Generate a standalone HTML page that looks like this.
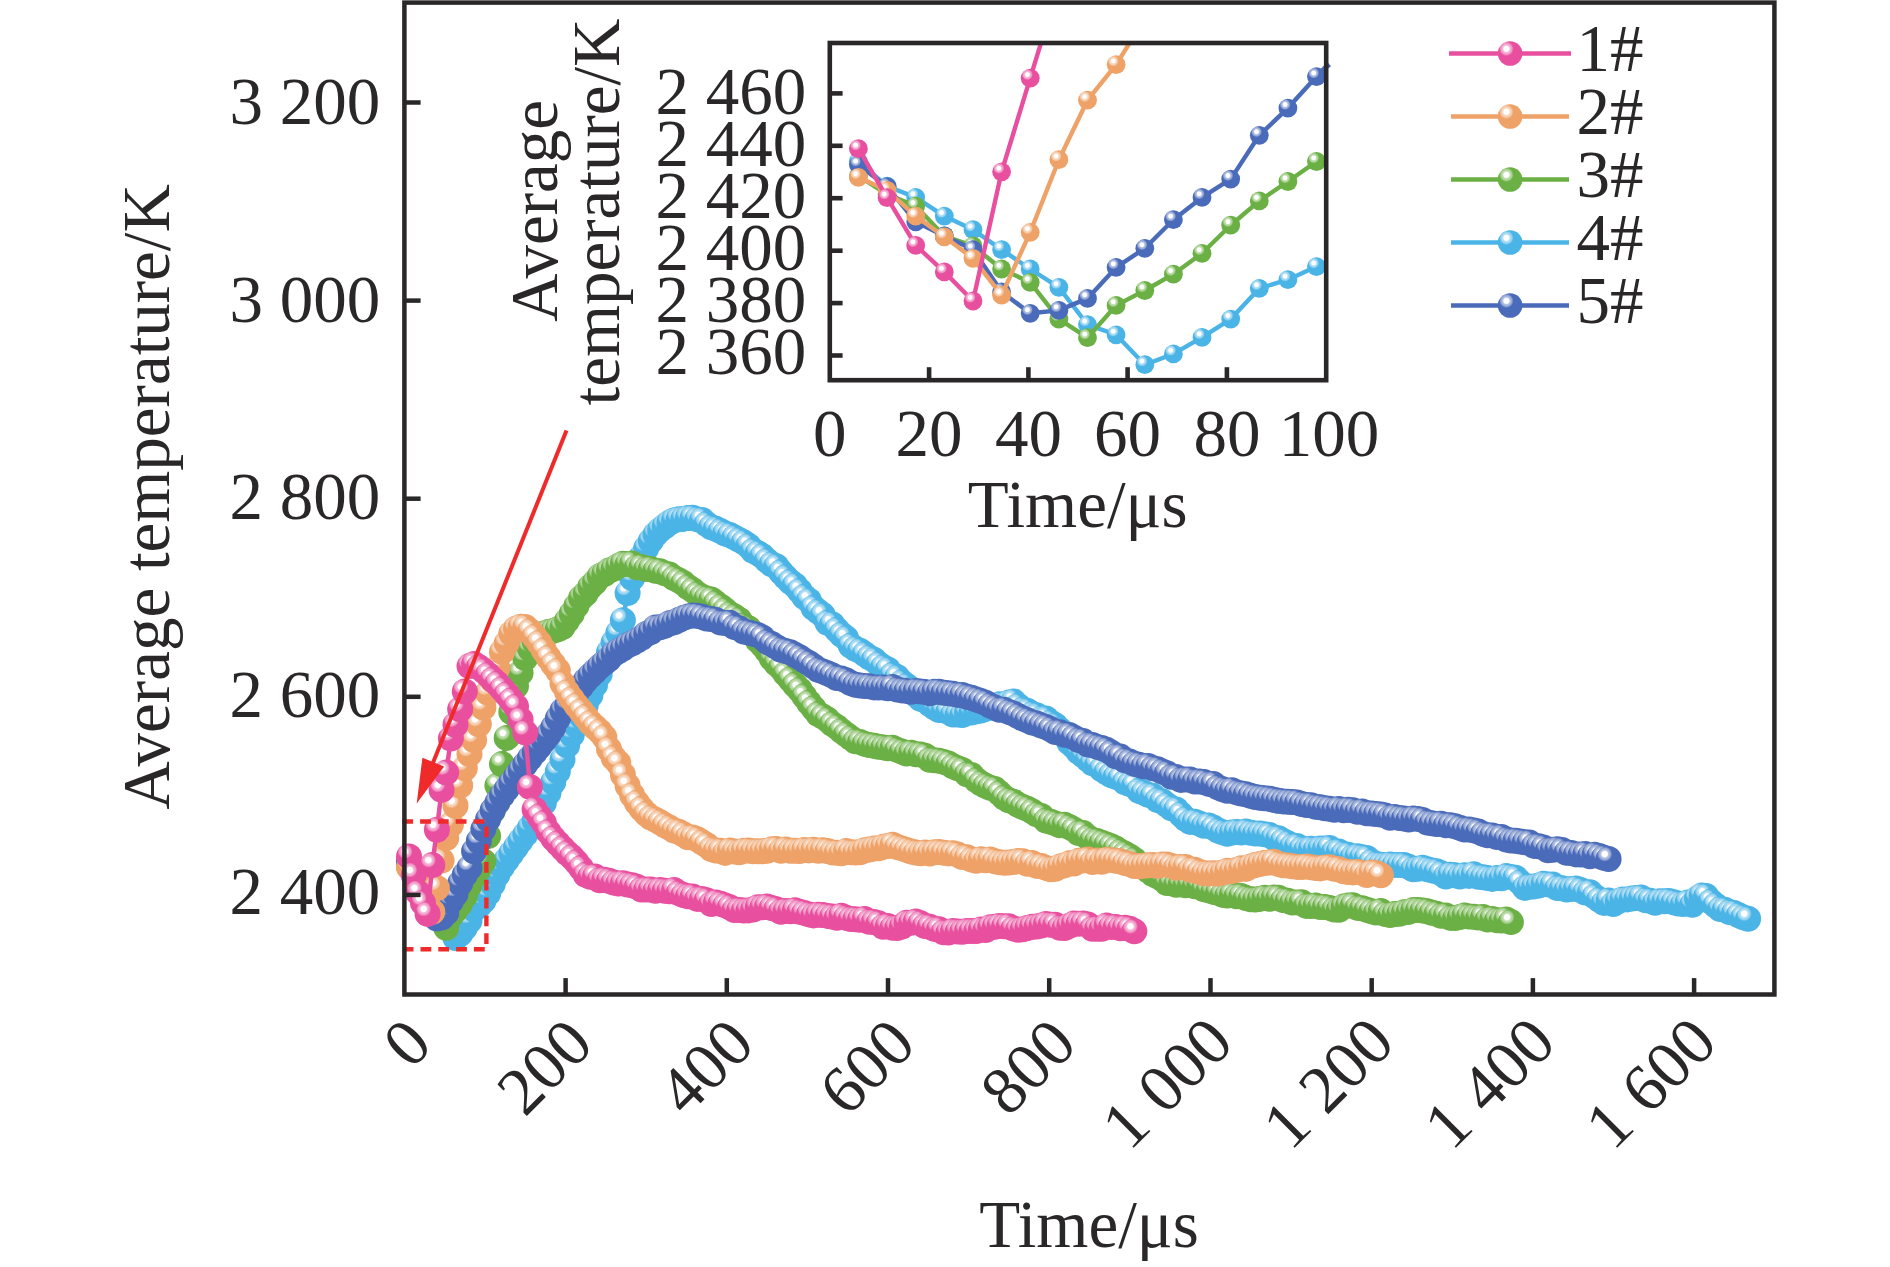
<!DOCTYPE html>
<html lang="en"><head><meta charset="utf-8"><title>Average temperature vs time</title><style>html,body{margin:0;padding:0;background:#fff}svg{display:block}</style></head><body>
<svg width="1890" height="1267" viewBox="0 0 1890 1267">
<defs>
<radialGradient id="g1" cx="0.35" cy="0.31" r="0.29" fx="0.35" fy="0.31"><stop offset="0" stop-color="#fff"/><stop offset="0.36" stop-color="#fff"/><stop offset="0.5" stop-color="#f6bcdb"/><stop offset="0.78" stop-color="#f196c5"/><stop offset="1" stop-color="#e8509f"/></radialGradient>
<radialGradient id="g2" cx="0.35" cy="0.31" r="0.29" fx="0.35" fy="0.31"><stop offset="0" stop-color="#fff"/><stop offset="0.36" stop-color="#fff"/><stop offset="0.5" stop-color="#f9dcc6"/><stop offset="0.78" stop-color="#f5c7a4"/><stop offset="1" stop-color="#eea268"/></radialGradient>
<radialGradient id="g3" cx="0.35" cy="0.31" r="0.29" fx="0.35" fy="0.31"><stop offset="0" stop-color="#fff"/><stop offset="0.36" stop-color="#fff"/><stop offset="0.5" stop-color="#c7e1b8"/><stop offset="0.78" stop-color="#a6d08f"/><stop offset="1" stop-color="#6bb045"/></radialGradient>
<radialGradient id="g4" cx="0.35" cy="0.31" r="0.29" fx="0.35" fy="0.31"><stop offset="0" stop-color="#fff"/><stop offset="0.36" stop-color="#fff"/><stop offset="0.5" stop-color="#bbe2f6"/><stop offset="0.78" stop-color="#93d2f0"/><stop offset="1" stop-color="#4bb4e6"/></radialGradient>
<radialGradient id="g5" cx="0.35" cy="0.31" r="0.29" fx="0.35" fy="0.31"><stop offset="0" stop-color="#fff"/><stop offset="0.36" stop-color="#fff"/><stop offset="0.5" stop-color="#bac7e4"/><stop offset="0.78" stop-color="#92a6d5"/><stop offset="1" stop-color="#4a6bb9"/></radialGradient>
<clipPath id="mclip"><rect x="404.4" y="2.6" width="1370.0" height="991.9"/></clipPath>
<clipPath id="iclip"><rect x="828.5999999999999" y="41.8" width="498.80000000000007" height="339.59999999999997"/></clipPath>
</defs>
<rect width="1890" height="1267" fill="#fff"/>
<g>
<polyline fill="none" stroke="#4bb4e6" stroke-width="4.5" stroke-linejoin="round" points="409,861.2 413.7,870.5 418.3,874.8 423,881.8 427.6,887 432.3,894.5 436.9,901.8 441.6,908.8 446.2,922.8 450.9,926.7 455.5,938 460.2,933.9 464.8,927.7 469.5,920.8 474.1,909.2 478.8,905.9 483.4,900.9 488.1,893.4 492.7,884 497.4,874.6 502,866.8 506.7,860 511.3,853.5 516,847.1 520.6,840.6 525.3,834.4 529.9,827.9 534.6,820.7 539.2,812.3 543.9,802.7 548.5,792.8 553.2,782.3 557.8,771.4 562.5,759.6 567.1,745.4 571.8,734.7 576.4,725.4 581.1,715.7 585.7,705.6 590.4,695.3 595,684.9 599.7,674.1 604.3,662.9 609,652.2 613.6,642.5 618.3,633 622.9,620.2 627.6,593.1 632.2,578.1 636.9,566.3 641.5,556.9 646.2,548.3 650.8,540.9 655.5,534.4 660.1,529.9 664.8,526.3 669.4,522.8 674.1,520.2 678.7,519.2 683.4,518.9 688,518 692.7,517.8 697.3,519.4 702,519.9 706.6,524.1 711.3,527.3 715.9,528.8 720.6,531.1 725.2,533.6 729.9,535.1 734.5,537.4 739.2,539.9 743.8,542.4 748.5,545.7 753.1,550.8 757.8,553 762.4,556.1 767,560.6 771.7,564.2 776.3,566.3 781,572.1 785.6,577.1 790.3,581.8 794.9,585.3 799.6,590.8 804.2,596.7 808.9,600.4 813.5,607.7 818.2,611.6 822.8,615.1 827.5,622.7 832.1,624.2 836.8,629.7 841.4,634.5 846.1,638.1 850.7,645.5 855.4,648.7 860,650.8 864.7,654.1 869.3,657.4 874,659.8 878.6,663.9 883.3,667.2 887.9,669.4 892.6,674.8 897.2,677.1 901.9,682.2 906.5,685.8 911.2,689.4 915.8,694.6 920.5,698.8 925.1,700.4 929.8,704 934.4,707.3 939.1,710 943.7,710.3 948.4,711.7 953,714.6 957.7,714.5 962.3,715.1 967,712.4 971.6,712.5 976.3,711.2 980.9,710.5 985.6,708.9 990.2,707.8 994.9,706.2 999.5,704.3 1004.2,704.5 1008.8,702.5 1013.5,701.4 1018.1,705.8 1022.8,709.5 1027.4,710.7 1032.1,713.9 1036.7,715.2 1041.4,718.4 1046,718.5 1050.7,722.5 1055.3,725.3 1060,730 1064.6,735.3 1069.3,742.4 1073.9,746.4 1078.6,751.9 1083.2,755.3 1087.9,759.3 1092.5,763.2 1097.2,764.4 1101.8,769.4 1106.5,772.2 1111.1,775 1115.8,776.8 1120.4,778.3 1125,782.3 1129.7,784.1 1134.3,785.1 1139,790.8 1143.6,792.6 1148.3,794.9 1152.9,795.8 1157.6,800 1162.2,801.3 1166.9,804.9 1171.5,808.2 1176.2,809.4 1180.8,814.2 1185.5,818.9 1190.1,821.9 1194.8,821.8 1199.4,823.5 1204.1,825.7 1208.7,825.4 1213.4,827.6 1218,830.6 1222.7,832.3 1227.3,833.8 1232,832.6 1236.6,831.9 1241.3,832.6 1245.9,831.6 1250.6,832.7 1255.2,833.6 1259.9,833.6 1264.5,834.2 1269.2,835 1273.8,837.7 1278.5,838.3 1283.1,840.9 1287.8,843.2 1292.4,846.1 1297.1,846.1 1301.7,848.6 1306.4,849.6 1311,848.8 1315.7,849.6 1320.3,848.6 1325,848.6 1329.6,848.1 1334.3,851.7 1338.9,851.4 1343.6,853.9 1348.2,854.8 1352.9,857 1357.5,856.3 1362.2,857.3 1366.8,858 1371.5,861.7 1376.1,864.1 1380.8,864.7 1385.4,864.9 1390.1,864.4 1394.7,864.9 1399.4,865.1 1404,865.1 1408.7,866.8 1413.3,869.3 1418,868.8 1422.6,867.8 1427.3,869.2 1431.9,870.4 1436.6,871.2 1441.2,873.3 1445.9,876.5 1450.5,874.7 1455.2,875.3 1459.8,876.5 1464.5,875.3 1469.1,875.9 1473.8,874.3 1478.4,876.7 1483.1,877.2 1487.7,878.1 1492.3,878.9 1497,878 1501.6,878.2 1506.3,876 1510.9,876.9 1515.6,877.7 1520.2,882.4 1524.9,887.9 1529.5,886.8 1534.2,886.4 1538.8,885.6 1543.5,883.8 1548.1,884.4 1552.8,884.6 1557.4,888.1 1562.1,888.2 1566.7,889.6 1571.4,889.1 1576,888.4 1580.7,890.1 1585.3,892.5 1590,892.3 1594.6,896.4 1599.3,899.8 1603.9,902.9 1608.6,900.5 1613.2,904.1 1617.9,901.3 1622.5,899.4 1627.2,899.4 1631.8,898.5 1636.5,898 1641.1,897.5 1645.8,900.3 1650.4,900.7 1655.1,902.7 1659.7,901.3 1664.4,901.2 1669,901.1 1673.7,902.2 1678.3,903.5 1683,904.1 1687.6,902.5 1692.3,904.7 1696.9,898.7 1701.6,895.4 1706.2,896.1 1710.9,901.5 1715.5,905.2 1720.2,909.1 1724.8,909.8 1729.5,912 1734.1,912.9 1738.8,915.2 1743.4,917.4 1748.1,918.7"/>
<g fill="url(#g4)">
<circle cx="409" cy="861.2" r="13.0"/>
<circle cx="413.7" cy="870.5" r="13.0"/>
<circle cx="418.3" cy="874.8" r="13.0"/>
<circle cx="423" cy="881.8" r="13.0"/>
<circle cx="427.6" cy="887" r="13.0"/>
<circle cx="432.3" cy="894.5" r="13.0"/>
<circle cx="436.9" cy="901.8" r="13.0"/>
<circle cx="441.6" cy="908.8" r="13.0"/>
<circle cx="446.2" cy="922.8" r="13.0"/>
<circle cx="450.9" cy="926.7" r="13.0"/>
<circle cx="455.5" cy="938" r="13.0"/>
<circle cx="460.2" cy="933.9" r="13.0"/>
<circle cx="464.8" cy="927.7" r="13.0"/>
<circle cx="469.5" cy="920.8" r="13.0"/>
<circle cx="474.1" cy="909.2" r="13.0"/>
<circle cx="478.8" cy="905.9" r="13.0"/>
<circle cx="483.4" cy="900.9" r="13.0"/>
<circle cx="488.1" cy="893.4" r="13.0"/>
<circle cx="492.7" cy="884" r="13.0"/>
<circle cx="497.4" cy="874.6" r="13.0"/>
<circle cx="502" cy="866.8" r="13.0"/>
<circle cx="506.7" cy="860" r="13.0"/>
<circle cx="511.3" cy="853.5" r="13.0"/>
<circle cx="516" cy="847.1" r="13.0"/>
<circle cx="520.6" cy="840.6" r="13.0"/>
<circle cx="525.3" cy="834.4" r="13.0"/>
<circle cx="529.9" cy="827.9" r="13.0"/>
<circle cx="534.6" cy="820.7" r="13.0"/>
<circle cx="539.2" cy="812.3" r="13.0"/>
<circle cx="543.9" cy="802.7" r="13.0"/>
<circle cx="548.5" cy="792.8" r="13.0"/>
<circle cx="553.2" cy="782.3" r="13.0"/>
<circle cx="557.8" cy="771.4" r="13.0"/>
<circle cx="562.5" cy="759.6" r="13.0"/>
<circle cx="567.1" cy="745.4" r="13.0"/>
<circle cx="571.8" cy="734.7" r="13.0"/>
<circle cx="576.4" cy="725.4" r="13.0"/>
<circle cx="581.1" cy="715.7" r="13.0"/>
<circle cx="585.7" cy="705.6" r="13.0"/>
<circle cx="590.4" cy="695.3" r="13.0"/>
<circle cx="595" cy="684.9" r="13.0"/>
<circle cx="599.7" cy="674.1" r="13.0"/>
<circle cx="604.3" cy="662.9" r="13.0"/>
<circle cx="609" cy="652.2" r="13.0"/>
<circle cx="613.6" cy="642.5" r="13.0"/>
<circle cx="618.3" cy="633" r="13.0"/>
<circle cx="622.9" cy="620.2" r="13.0"/>
<circle cx="627.6" cy="593.1" r="13.0"/>
<circle cx="632.2" cy="578.1" r="13.0"/>
<circle cx="636.9" cy="566.3" r="13.0"/>
<circle cx="641.5" cy="556.9" r="13.0"/>
<circle cx="646.2" cy="548.3" r="13.0"/>
<circle cx="650.8" cy="540.9" r="13.0"/>
<circle cx="655.5" cy="534.4" r="13.0"/>
<circle cx="660.1" cy="529.9" r="13.0"/>
<circle cx="664.8" cy="526.3" r="13.0"/>
<circle cx="669.4" cy="522.8" r="13.0"/>
<circle cx="674.1" cy="520.2" r="13.0"/>
<circle cx="678.7" cy="519.2" r="13.0"/>
<circle cx="683.4" cy="518.9" r="13.0"/>
<circle cx="688" cy="518" r="13.0"/>
<circle cx="692.7" cy="517.8" r="13.0"/>
<circle cx="697.3" cy="519.4" r="13.0"/>
<circle cx="702" cy="519.9" r="13.0"/>
<circle cx="706.6" cy="524.1" r="13.0"/>
<circle cx="711.3" cy="527.3" r="13.0"/>
<circle cx="715.9" cy="528.8" r="13.0"/>
<circle cx="720.6" cy="531.1" r="13.0"/>
<circle cx="725.2" cy="533.6" r="13.0"/>
<circle cx="729.9" cy="535.1" r="13.0"/>
<circle cx="734.5" cy="537.4" r="13.0"/>
<circle cx="739.2" cy="539.9" r="13.0"/>
<circle cx="743.8" cy="542.4" r="13.0"/>
<circle cx="748.5" cy="545.7" r="13.0"/>
<circle cx="753.1" cy="550.8" r="13.0"/>
<circle cx="757.8" cy="553" r="13.0"/>
<circle cx="762.4" cy="556.1" r="13.0"/>
<circle cx="767" cy="560.6" r="13.0"/>
<circle cx="771.7" cy="564.2" r="13.0"/>
<circle cx="776.3" cy="566.3" r="13.0"/>
<circle cx="781" cy="572.1" r="13.0"/>
<circle cx="785.6" cy="577.1" r="13.0"/>
<circle cx="790.3" cy="581.8" r="13.0"/>
<circle cx="794.9" cy="585.3" r="13.0"/>
<circle cx="799.6" cy="590.8" r="13.0"/>
<circle cx="804.2" cy="596.7" r="13.0"/>
<circle cx="808.9" cy="600.4" r="13.0"/>
<circle cx="813.5" cy="607.7" r="13.0"/>
<circle cx="818.2" cy="611.6" r="13.0"/>
<circle cx="822.8" cy="615.1" r="13.0"/>
<circle cx="827.5" cy="622.7" r="13.0"/>
<circle cx="832.1" cy="624.2" r="13.0"/>
<circle cx="836.8" cy="629.7" r="13.0"/>
<circle cx="841.4" cy="634.5" r="13.0"/>
<circle cx="846.1" cy="638.1" r="13.0"/>
<circle cx="850.7" cy="645.5" r="13.0"/>
<circle cx="855.4" cy="648.7" r="13.0"/>
<circle cx="860" cy="650.8" r="13.0"/>
<circle cx="864.7" cy="654.1" r="13.0"/>
<circle cx="869.3" cy="657.4" r="13.0"/>
<circle cx="874" cy="659.8" r="13.0"/>
<circle cx="878.6" cy="663.9" r="13.0"/>
<circle cx="883.3" cy="667.2" r="13.0"/>
<circle cx="887.9" cy="669.4" r="13.0"/>
<circle cx="892.6" cy="674.8" r="13.0"/>
<circle cx="897.2" cy="677.1" r="13.0"/>
<circle cx="901.9" cy="682.2" r="13.0"/>
<circle cx="906.5" cy="685.8" r="13.0"/>
<circle cx="911.2" cy="689.4" r="13.0"/>
<circle cx="915.8" cy="694.6" r="13.0"/>
<circle cx="920.5" cy="698.8" r="13.0"/>
<circle cx="925.1" cy="700.4" r="13.0"/>
<circle cx="929.8" cy="704" r="13.0"/>
<circle cx="934.4" cy="707.3" r="13.0"/>
<circle cx="939.1" cy="710" r="13.0"/>
<circle cx="943.7" cy="710.3" r="13.0"/>
<circle cx="948.4" cy="711.7" r="13.0"/>
<circle cx="953" cy="714.6" r="13.0"/>
<circle cx="957.7" cy="714.5" r="13.0"/>
<circle cx="962.3" cy="715.1" r="13.0"/>
<circle cx="967" cy="712.4" r="13.0"/>
<circle cx="971.6" cy="712.5" r="13.0"/>
<circle cx="976.3" cy="711.2" r="13.0"/>
<circle cx="980.9" cy="710.5" r="13.0"/>
<circle cx="985.6" cy="708.9" r="13.0"/>
<circle cx="990.2" cy="707.8" r="13.0"/>
<circle cx="994.9" cy="706.2" r="13.0"/>
<circle cx="999.5" cy="704.3" r="13.0"/>
<circle cx="1004.2" cy="704.5" r="13.0"/>
<circle cx="1008.8" cy="702.5" r="13.0"/>
<circle cx="1013.5" cy="701.4" r="13.0"/>
<circle cx="1018.1" cy="705.8" r="13.0"/>
<circle cx="1022.8" cy="709.5" r="13.0"/>
<circle cx="1027.4" cy="710.7" r="13.0"/>
<circle cx="1032.1" cy="713.9" r="13.0"/>
<circle cx="1036.7" cy="715.2" r="13.0"/>
<circle cx="1041.4" cy="718.4" r="13.0"/>
<circle cx="1046" cy="718.5" r="13.0"/>
<circle cx="1050.7" cy="722.5" r="13.0"/>
<circle cx="1055.3" cy="725.3" r="13.0"/>
<circle cx="1060" cy="730" r="13.0"/>
<circle cx="1064.6" cy="735.3" r="13.0"/>
<circle cx="1069.3" cy="742.4" r="13.0"/>
<circle cx="1073.9" cy="746.4" r="13.0"/>
<circle cx="1078.6" cy="751.9" r="13.0"/>
<circle cx="1083.2" cy="755.3" r="13.0"/>
<circle cx="1087.9" cy="759.3" r="13.0"/>
<circle cx="1092.5" cy="763.2" r="13.0"/>
<circle cx="1097.2" cy="764.4" r="13.0"/>
<circle cx="1101.8" cy="769.4" r="13.0"/>
<circle cx="1106.5" cy="772.2" r="13.0"/>
<circle cx="1111.1" cy="775" r="13.0"/>
<circle cx="1115.8" cy="776.8" r="13.0"/>
<circle cx="1120.4" cy="778.3" r="13.0"/>
<circle cx="1125" cy="782.3" r="13.0"/>
<circle cx="1129.7" cy="784.1" r="13.0"/>
<circle cx="1134.3" cy="785.1" r="13.0"/>
<circle cx="1139" cy="790.8" r="13.0"/>
<circle cx="1143.6" cy="792.6" r="13.0"/>
<circle cx="1148.3" cy="794.9" r="13.0"/>
<circle cx="1152.9" cy="795.8" r="13.0"/>
<circle cx="1157.6" cy="800" r="13.0"/>
<circle cx="1162.2" cy="801.3" r="13.0"/>
<circle cx="1166.9" cy="804.9" r="13.0"/>
<circle cx="1171.5" cy="808.2" r="13.0"/>
<circle cx="1176.2" cy="809.4" r="13.0"/>
<circle cx="1180.8" cy="814.2" r="13.0"/>
<circle cx="1185.5" cy="818.9" r="13.0"/>
<circle cx="1190.1" cy="821.9" r="13.0"/>
<circle cx="1194.8" cy="821.8" r="13.0"/>
<circle cx="1199.4" cy="823.5" r="13.0"/>
<circle cx="1204.1" cy="825.7" r="13.0"/>
<circle cx="1208.7" cy="825.4" r="13.0"/>
<circle cx="1213.4" cy="827.6" r="13.0"/>
<circle cx="1218" cy="830.6" r="13.0"/>
<circle cx="1222.7" cy="832.3" r="13.0"/>
<circle cx="1227.3" cy="833.8" r="13.0"/>
<circle cx="1232" cy="832.6" r="13.0"/>
<circle cx="1236.6" cy="831.9" r="13.0"/>
<circle cx="1241.3" cy="832.6" r="13.0"/>
<circle cx="1245.9" cy="831.6" r="13.0"/>
<circle cx="1250.6" cy="832.7" r="13.0"/>
<circle cx="1255.2" cy="833.6" r="13.0"/>
<circle cx="1259.9" cy="833.6" r="13.0"/>
<circle cx="1264.5" cy="834.2" r="13.0"/>
<circle cx="1269.2" cy="835" r="13.0"/>
<circle cx="1273.8" cy="837.7" r="13.0"/>
<circle cx="1278.5" cy="838.3" r="13.0"/>
<circle cx="1283.1" cy="840.9" r="13.0"/>
<circle cx="1287.8" cy="843.2" r="13.0"/>
<circle cx="1292.4" cy="846.1" r="13.0"/>
<circle cx="1297.1" cy="846.1" r="13.0"/>
<circle cx="1301.7" cy="848.6" r="13.0"/>
<circle cx="1306.4" cy="849.6" r="13.0"/>
<circle cx="1311" cy="848.8" r="13.0"/>
<circle cx="1315.7" cy="849.6" r="13.0"/>
<circle cx="1320.3" cy="848.6" r="13.0"/>
<circle cx="1325" cy="848.6" r="13.0"/>
<circle cx="1329.6" cy="848.1" r="13.0"/>
<circle cx="1334.3" cy="851.7" r="13.0"/>
<circle cx="1338.9" cy="851.4" r="13.0"/>
<circle cx="1343.6" cy="853.9" r="13.0"/>
<circle cx="1348.2" cy="854.8" r="13.0"/>
<circle cx="1352.9" cy="857" r="13.0"/>
<circle cx="1357.5" cy="856.3" r="13.0"/>
<circle cx="1362.2" cy="857.3" r="13.0"/>
<circle cx="1366.8" cy="858" r="13.0"/>
<circle cx="1371.5" cy="861.7" r="13.0"/>
<circle cx="1376.1" cy="864.1" r="13.0"/>
<circle cx="1380.8" cy="864.7" r="13.0"/>
<circle cx="1385.4" cy="864.9" r="13.0"/>
<circle cx="1390.1" cy="864.4" r="13.0"/>
<circle cx="1394.7" cy="864.9" r="13.0"/>
<circle cx="1399.4" cy="865.1" r="13.0"/>
<circle cx="1404" cy="865.1" r="13.0"/>
<circle cx="1408.7" cy="866.8" r="13.0"/>
<circle cx="1413.3" cy="869.3" r="13.0"/>
<circle cx="1418" cy="868.8" r="13.0"/>
<circle cx="1422.6" cy="867.8" r="13.0"/>
<circle cx="1427.3" cy="869.2" r="13.0"/>
<circle cx="1431.9" cy="870.4" r="13.0"/>
<circle cx="1436.6" cy="871.2" r="13.0"/>
<circle cx="1441.2" cy="873.3" r="13.0"/>
<circle cx="1445.9" cy="876.5" r="13.0"/>
<circle cx="1450.5" cy="874.7" r="13.0"/>
<circle cx="1455.2" cy="875.3" r="13.0"/>
<circle cx="1459.8" cy="876.5" r="13.0"/>
<circle cx="1464.5" cy="875.3" r="13.0"/>
<circle cx="1469.1" cy="875.9" r="13.0"/>
<circle cx="1473.8" cy="874.3" r="13.0"/>
<circle cx="1478.4" cy="876.7" r="13.0"/>
<circle cx="1483.1" cy="877.2" r="13.0"/>
<circle cx="1487.7" cy="878.1" r="13.0"/>
<circle cx="1492.3" cy="878.9" r="13.0"/>
<circle cx="1497" cy="878" r="13.0"/>
<circle cx="1501.6" cy="878.2" r="13.0"/>
<circle cx="1506.3" cy="876" r="13.0"/>
<circle cx="1510.9" cy="876.9" r="13.0"/>
<circle cx="1515.6" cy="877.7" r="13.0"/>
<circle cx="1520.2" cy="882.4" r="13.0"/>
<circle cx="1524.9" cy="887.9" r="13.0"/>
<circle cx="1529.5" cy="886.8" r="13.0"/>
<circle cx="1534.2" cy="886.4" r="13.0"/>
<circle cx="1538.8" cy="885.6" r="13.0"/>
<circle cx="1543.5" cy="883.8" r="13.0"/>
<circle cx="1548.1" cy="884.4" r="13.0"/>
<circle cx="1552.8" cy="884.6" r="13.0"/>
<circle cx="1557.4" cy="888.1" r="13.0"/>
<circle cx="1562.1" cy="888.2" r="13.0"/>
<circle cx="1566.7" cy="889.6" r="13.0"/>
<circle cx="1571.4" cy="889.1" r="13.0"/>
<circle cx="1576" cy="888.4" r="13.0"/>
<circle cx="1580.7" cy="890.1" r="13.0"/>
<circle cx="1585.3" cy="892.5" r="13.0"/>
<circle cx="1590" cy="892.3" r="13.0"/>
<circle cx="1594.6" cy="896.4" r="13.0"/>
<circle cx="1599.3" cy="899.8" r="13.0"/>
<circle cx="1603.9" cy="902.9" r="13.0"/>
<circle cx="1608.6" cy="900.5" r="13.0"/>
<circle cx="1613.2" cy="904.1" r="13.0"/>
<circle cx="1617.9" cy="901.3" r="13.0"/>
<circle cx="1622.5" cy="899.4" r="13.0"/>
<circle cx="1627.2" cy="899.4" r="13.0"/>
<circle cx="1631.8" cy="898.5" r="13.0"/>
<circle cx="1636.5" cy="898" r="13.0"/>
<circle cx="1641.1" cy="897.5" r="13.0"/>
<circle cx="1645.8" cy="900.3" r="13.0"/>
<circle cx="1650.4" cy="900.7" r="13.0"/>
<circle cx="1655.1" cy="902.7" r="13.0"/>
<circle cx="1659.7" cy="901.3" r="13.0"/>
<circle cx="1664.4" cy="901.2" r="13.0"/>
<circle cx="1669" cy="901.1" r="13.0"/>
<circle cx="1673.7" cy="902.2" r="13.0"/>
<circle cx="1678.3" cy="903.5" r="13.0"/>
<circle cx="1683" cy="904.1" r="13.0"/>
<circle cx="1687.6" cy="902.5" r="13.0"/>
<circle cx="1692.3" cy="904.7" r="13.0"/>
<circle cx="1696.9" cy="898.7" r="13.0"/>
<circle cx="1701.6" cy="895.4" r="13.0"/>
<circle cx="1706.2" cy="896.1" r="13.0"/>
<circle cx="1710.9" cy="901.5" r="13.0"/>
<circle cx="1715.5" cy="905.2" r="13.0"/>
<circle cx="1720.2" cy="909.1" r="13.0"/>
<circle cx="1724.8" cy="909.8" r="13.0"/>
<circle cx="1729.5" cy="912" r="13.0"/>
<circle cx="1734.1" cy="912.9" r="13.0"/>
<circle cx="1738.8" cy="915.2" r="13.0"/>
<circle cx="1743.4" cy="917.4" r="13.0"/>
<circle cx="1748.1" cy="918.7" r="13.0"/>
</g>
<polyline fill="none" stroke="#6bb045" stroke-width="4.5" stroke-linejoin="round" points="409,866.7 413.7,873.6 418.3,878.1 423,889.4 427.6,893.1 432.3,901.8 436.9,906.9 441.6,920.8 446.2,927.8 450.9,915.6 455.5,910 460.2,903.8 464.8,895.9 469.5,885.3 474.1,876.1 478.8,868.8 483.4,861.2 488.1,836 492.7,811 497.4,785.6 502,764.1 506.7,737.9 511.3,712 516,686 520.6,672.8 525.3,658.1 529.9,648.5 534.6,641.4 539.2,636.3 543.9,633.6 548.5,632 553.2,630.9 557.8,629.2 562.5,627.1 567.1,620.6 571.8,613.7 576.4,605.9 581.1,597.9 585.7,593.6 590.4,586.8 595,582.3 599.7,576.2 604.3,574 609,570.6 613.6,568.9 618.3,565.9 622.9,563.8 627.6,564.1 632.2,563.6 636.9,567.4 641.5,566.9 646.2,569.1 650.8,568.9 655.5,570.7 660.1,571.2 664.8,573.4 669.4,574.6 674.1,578.1 678.7,580.2 683.4,583.1 688,587 692.7,590.1 697.3,594 702,596.7 706.6,598.5 711.3,599.5 715.9,603.1 720.6,606.4 725.2,610.1 729.9,613.9 734.5,616.6 739.2,619.7 743.8,625.5 748.5,628.2 753.1,633.3 757.8,640.4 762.4,645 767,650.7 771.7,658.2 776.3,663.5 781,667.8 785.6,673.9 790.3,679.2 794.9,684.8 799.6,689.8 804.2,696.1 808.9,702.5 813.5,708.3 818.2,714.1 822.8,716.5 827.5,719.6 832.1,723.9 836.8,726.9 841.4,730.9 846.1,734.4 850.7,737.9 855.4,741.2 860,741.9 864.7,743.9 869.3,745 874,745.7 878.6,746.7 883.3,747.4 887.9,748.3 892.6,747.8 897.2,749.9 901.9,751.6 906.5,753.5 911.2,752.8 915.8,754.2 920.5,754.5 925.1,755.8 929.8,759.7 934.4,760.2 939.1,760.8 943.7,761.9 948.4,763.4 953,766.2 957.7,768.3 962.3,769.9 967,774.2 971.6,775.1 976.3,780 980.9,783.2 985.6,785.7 990.2,787.7 994.9,789.1 999.5,793.1 1004.2,797.6 1008.8,800.3 1013.5,801.7 1018.1,804.7 1022.8,807 1027.4,808.8 1032.1,811.2 1036.7,814.4 1041.4,816 1046,820.6 1050.7,821.8 1055.3,823.4 1060,825.3 1064.6,824.8 1069.3,827.1 1073.9,829.4 1078.6,833.1 1083.2,833.1 1087.9,837.3 1092.5,839.9 1097.2,841.1 1101.8,842.7 1106.5,844.4 1111.1,846.2 1115.8,848.6 1120.4,851.4 1125,853.7 1129.7,856.5 1134.3,859.8 1139,864.5 1143.6,866 1148.3,870.6 1152.9,874 1157.6,876.3 1162.2,878.8 1166.9,883 1171.5,883.3 1176.2,884.8 1180.8,884.2 1185.5,885.2 1190.1,884.9 1194.8,886.2 1199.4,885.5 1204.1,889.3 1208.7,890.3 1213.4,891.9 1218,892.6 1222.7,894.9 1227.3,895.6 1232,894.5 1236.6,896.3 1241.3,896.1 1245.9,898.1 1250.6,899.3 1255.2,899.6 1259.9,898.9 1264.5,897.7 1269.2,898.7 1273.8,897.4 1278.5,897.7 1283.1,900.1 1287.8,900.8 1292.4,902.5 1297.1,902.4 1301.7,902.3 1306.4,905.9 1311,906 1315.7,905.5 1320.3,907 1325,907 1329.6,907.9 1334.3,909.6 1338.9,909.7 1343.6,906.6 1348.2,905.4 1352.9,905.2 1357.5,907.9 1362.2,908.3 1366.8,909.8 1371.5,911.2 1376.1,912.6 1380.8,911.1 1385.4,914.1 1390.1,915 1394.7,914 1399.4,913.7 1404,912.2 1408.7,911.9 1413.3,910.1 1418,910.1 1422.6,910.6 1427.3,911.2 1431.9,912.8 1436.6,913.8 1441.2,915.8 1445.9,915.6 1450.5,917.9 1455.2,918.1 1459.8,917 1464.5,915.4 1469.1,916.6 1473.8,916.8 1478.4,917.5 1483.1,917.1 1487.7,919.6 1492.3,918.9 1497,920.3 1501.6,920.5 1506.3,919.5 1510.9,922.1"/>
<g fill="url(#g3)">
<circle cx="409" cy="866.7" r="13.0"/>
<circle cx="413.7" cy="873.6" r="13.0"/>
<circle cx="418.3" cy="878.1" r="13.0"/>
<circle cx="423" cy="889.4" r="13.0"/>
<circle cx="427.6" cy="893.1" r="13.0"/>
<circle cx="432.3" cy="901.8" r="13.0"/>
<circle cx="436.9" cy="906.9" r="13.0"/>
<circle cx="441.6" cy="920.8" r="13.0"/>
<circle cx="446.2" cy="927.8" r="13.0"/>
<circle cx="450.9" cy="915.6" r="13.0"/>
<circle cx="455.5" cy="910" r="13.0"/>
<circle cx="460.2" cy="903.8" r="13.0"/>
<circle cx="464.8" cy="895.9" r="13.0"/>
<circle cx="469.5" cy="885.3" r="13.0"/>
<circle cx="474.1" cy="876.1" r="13.0"/>
<circle cx="478.8" cy="868.8" r="13.0"/>
<circle cx="483.4" cy="861.2" r="13.0"/>
<circle cx="488.1" cy="836" r="13.0"/>
<circle cx="492.7" cy="811" r="13.0"/>
<circle cx="497.4" cy="785.6" r="13.0"/>
<circle cx="502" cy="764.1" r="13.0"/>
<circle cx="506.7" cy="737.9" r="13.0"/>
<circle cx="511.3" cy="712" r="13.0"/>
<circle cx="516" cy="686" r="13.0"/>
<circle cx="520.6" cy="672.8" r="13.0"/>
<circle cx="525.3" cy="658.1" r="13.0"/>
<circle cx="529.9" cy="648.5" r="13.0"/>
<circle cx="534.6" cy="641.4" r="13.0"/>
<circle cx="539.2" cy="636.3" r="13.0"/>
<circle cx="543.9" cy="633.6" r="13.0"/>
<circle cx="548.5" cy="632" r="13.0"/>
<circle cx="553.2" cy="630.9" r="13.0"/>
<circle cx="557.8" cy="629.2" r="13.0"/>
<circle cx="562.5" cy="627.1" r="13.0"/>
<circle cx="567.1" cy="620.6" r="13.0"/>
<circle cx="571.8" cy="613.7" r="13.0"/>
<circle cx="576.4" cy="605.9" r="13.0"/>
<circle cx="581.1" cy="597.9" r="13.0"/>
<circle cx="585.7" cy="593.6" r="13.0"/>
<circle cx="590.4" cy="586.8" r="13.0"/>
<circle cx="595" cy="582.3" r="13.0"/>
<circle cx="599.7" cy="576.2" r="13.0"/>
<circle cx="604.3" cy="574" r="13.0"/>
<circle cx="609" cy="570.6" r="13.0"/>
<circle cx="613.6" cy="568.9" r="13.0"/>
<circle cx="618.3" cy="565.9" r="13.0"/>
<circle cx="622.9" cy="563.8" r="13.0"/>
<circle cx="627.6" cy="564.1" r="13.0"/>
<circle cx="632.2" cy="563.6" r="13.0"/>
<circle cx="636.9" cy="567.4" r="13.0"/>
<circle cx="641.5" cy="566.9" r="13.0"/>
<circle cx="646.2" cy="569.1" r="13.0"/>
<circle cx="650.8" cy="568.9" r="13.0"/>
<circle cx="655.5" cy="570.7" r="13.0"/>
<circle cx="660.1" cy="571.2" r="13.0"/>
<circle cx="664.8" cy="573.4" r="13.0"/>
<circle cx="669.4" cy="574.6" r="13.0"/>
<circle cx="674.1" cy="578.1" r="13.0"/>
<circle cx="678.7" cy="580.2" r="13.0"/>
<circle cx="683.4" cy="583.1" r="13.0"/>
<circle cx="688" cy="587" r="13.0"/>
<circle cx="692.7" cy="590.1" r="13.0"/>
<circle cx="697.3" cy="594" r="13.0"/>
<circle cx="702" cy="596.7" r="13.0"/>
<circle cx="706.6" cy="598.5" r="13.0"/>
<circle cx="711.3" cy="599.5" r="13.0"/>
<circle cx="715.9" cy="603.1" r="13.0"/>
<circle cx="720.6" cy="606.4" r="13.0"/>
<circle cx="725.2" cy="610.1" r="13.0"/>
<circle cx="729.9" cy="613.9" r="13.0"/>
<circle cx="734.5" cy="616.6" r="13.0"/>
<circle cx="739.2" cy="619.7" r="13.0"/>
<circle cx="743.8" cy="625.5" r="13.0"/>
<circle cx="748.5" cy="628.2" r="13.0"/>
<circle cx="753.1" cy="633.3" r="13.0"/>
<circle cx="757.8" cy="640.4" r="13.0"/>
<circle cx="762.4" cy="645" r="13.0"/>
<circle cx="767" cy="650.7" r="13.0"/>
<circle cx="771.7" cy="658.2" r="13.0"/>
<circle cx="776.3" cy="663.5" r="13.0"/>
<circle cx="781" cy="667.8" r="13.0"/>
<circle cx="785.6" cy="673.9" r="13.0"/>
<circle cx="790.3" cy="679.2" r="13.0"/>
<circle cx="794.9" cy="684.8" r="13.0"/>
<circle cx="799.6" cy="689.8" r="13.0"/>
<circle cx="804.2" cy="696.1" r="13.0"/>
<circle cx="808.9" cy="702.5" r="13.0"/>
<circle cx="813.5" cy="708.3" r="13.0"/>
<circle cx="818.2" cy="714.1" r="13.0"/>
<circle cx="822.8" cy="716.5" r="13.0"/>
<circle cx="827.5" cy="719.6" r="13.0"/>
<circle cx="832.1" cy="723.9" r="13.0"/>
<circle cx="836.8" cy="726.9" r="13.0"/>
<circle cx="841.4" cy="730.9" r="13.0"/>
<circle cx="846.1" cy="734.4" r="13.0"/>
<circle cx="850.7" cy="737.9" r="13.0"/>
<circle cx="855.4" cy="741.2" r="13.0"/>
<circle cx="860" cy="741.9" r="13.0"/>
<circle cx="864.7" cy="743.9" r="13.0"/>
<circle cx="869.3" cy="745" r="13.0"/>
<circle cx="874" cy="745.7" r="13.0"/>
<circle cx="878.6" cy="746.7" r="13.0"/>
<circle cx="883.3" cy="747.4" r="13.0"/>
<circle cx="887.9" cy="748.3" r="13.0"/>
<circle cx="892.6" cy="747.8" r="13.0"/>
<circle cx="897.2" cy="749.9" r="13.0"/>
<circle cx="901.9" cy="751.6" r="13.0"/>
<circle cx="906.5" cy="753.5" r="13.0"/>
<circle cx="911.2" cy="752.8" r="13.0"/>
<circle cx="915.8" cy="754.2" r="13.0"/>
<circle cx="920.5" cy="754.5" r="13.0"/>
<circle cx="925.1" cy="755.8" r="13.0"/>
<circle cx="929.8" cy="759.7" r="13.0"/>
<circle cx="934.4" cy="760.2" r="13.0"/>
<circle cx="939.1" cy="760.8" r="13.0"/>
<circle cx="943.7" cy="761.9" r="13.0"/>
<circle cx="948.4" cy="763.4" r="13.0"/>
<circle cx="953" cy="766.2" r="13.0"/>
<circle cx="957.7" cy="768.3" r="13.0"/>
<circle cx="962.3" cy="769.9" r="13.0"/>
<circle cx="967" cy="774.2" r="13.0"/>
<circle cx="971.6" cy="775.1" r="13.0"/>
<circle cx="976.3" cy="780" r="13.0"/>
<circle cx="980.9" cy="783.2" r="13.0"/>
<circle cx="985.6" cy="785.7" r="13.0"/>
<circle cx="990.2" cy="787.7" r="13.0"/>
<circle cx="994.9" cy="789.1" r="13.0"/>
<circle cx="999.5" cy="793.1" r="13.0"/>
<circle cx="1004.2" cy="797.6" r="13.0"/>
<circle cx="1008.8" cy="800.3" r="13.0"/>
<circle cx="1013.5" cy="801.7" r="13.0"/>
<circle cx="1018.1" cy="804.7" r="13.0"/>
<circle cx="1022.8" cy="807" r="13.0"/>
<circle cx="1027.4" cy="808.8" r="13.0"/>
<circle cx="1032.1" cy="811.2" r="13.0"/>
<circle cx="1036.7" cy="814.4" r="13.0"/>
<circle cx="1041.4" cy="816" r="13.0"/>
<circle cx="1046" cy="820.6" r="13.0"/>
<circle cx="1050.7" cy="821.8" r="13.0"/>
<circle cx="1055.3" cy="823.4" r="13.0"/>
<circle cx="1060" cy="825.3" r="13.0"/>
<circle cx="1064.6" cy="824.8" r="13.0"/>
<circle cx="1069.3" cy="827.1" r="13.0"/>
<circle cx="1073.9" cy="829.4" r="13.0"/>
<circle cx="1078.6" cy="833.1" r="13.0"/>
<circle cx="1083.2" cy="833.1" r="13.0"/>
<circle cx="1087.9" cy="837.3" r="13.0"/>
<circle cx="1092.5" cy="839.9" r="13.0"/>
<circle cx="1097.2" cy="841.1" r="13.0"/>
<circle cx="1101.8" cy="842.7" r="13.0"/>
<circle cx="1106.5" cy="844.4" r="13.0"/>
<circle cx="1111.1" cy="846.2" r="13.0"/>
<circle cx="1115.8" cy="848.6" r="13.0"/>
<circle cx="1120.4" cy="851.4" r="13.0"/>
<circle cx="1125" cy="853.7" r="13.0"/>
<circle cx="1129.7" cy="856.5" r="13.0"/>
<circle cx="1134.3" cy="859.8" r="13.0"/>
<circle cx="1139" cy="864.5" r="13.0"/>
<circle cx="1143.6" cy="866" r="13.0"/>
<circle cx="1148.3" cy="870.6" r="13.0"/>
<circle cx="1152.9" cy="874" r="13.0"/>
<circle cx="1157.6" cy="876.3" r="13.0"/>
<circle cx="1162.2" cy="878.8" r="13.0"/>
<circle cx="1166.9" cy="883" r="13.0"/>
<circle cx="1171.5" cy="883.3" r="13.0"/>
<circle cx="1176.2" cy="884.8" r="13.0"/>
<circle cx="1180.8" cy="884.2" r="13.0"/>
<circle cx="1185.5" cy="885.2" r="13.0"/>
<circle cx="1190.1" cy="884.9" r="13.0"/>
<circle cx="1194.8" cy="886.2" r="13.0"/>
<circle cx="1199.4" cy="885.5" r="13.0"/>
<circle cx="1204.1" cy="889.3" r="13.0"/>
<circle cx="1208.7" cy="890.3" r="13.0"/>
<circle cx="1213.4" cy="891.9" r="13.0"/>
<circle cx="1218" cy="892.6" r="13.0"/>
<circle cx="1222.7" cy="894.9" r="13.0"/>
<circle cx="1227.3" cy="895.6" r="13.0"/>
<circle cx="1232" cy="894.5" r="13.0"/>
<circle cx="1236.6" cy="896.3" r="13.0"/>
<circle cx="1241.3" cy="896.1" r="13.0"/>
<circle cx="1245.9" cy="898.1" r="13.0"/>
<circle cx="1250.6" cy="899.3" r="13.0"/>
<circle cx="1255.2" cy="899.6" r="13.0"/>
<circle cx="1259.9" cy="898.9" r="13.0"/>
<circle cx="1264.5" cy="897.7" r="13.0"/>
<circle cx="1269.2" cy="898.7" r="13.0"/>
<circle cx="1273.8" cy="897.4" r="13.0"/>
<circle cx="1278.5" cy="897.7" r="13.0"/>
<circle cx="1283.1" cy="900.1" r="13.0"/>
<circle cx="1287.8" cy="900.8" r="13.0"/>
<circle cx="1292.4" cy="902.5" r="13.0"/>
<circle cx="1297.1" cy="902.4" r="13.0"/>
<circle cx="1301.7" cy="902.3" r="13.0"/>
<circle cx="1306.4" cy="905.9" r="13.0"/>
<circle cx="1311" cy="906" r="13.0"/>
<circle cx="1315.7" cy="905.5" r="13.0"/>
<circle cx="1320.3" cy="907" r="13.0"/>
<circle cx="1325" cy="907" r="13.0"/>
<circle cx="1329.6" cy="907.9" r="13.0"/>
<circle cx="1334.3" cy="909.6" r="13.0"/>
<circle cx="1338.9" cy="909.7" r="13.0"/>
<circle cx="1343.6" cy="906.6" r="13.0"/>
<circle cx="1348.2" cy="905.4" r="13.0"/>
<circle cx="1352.9" cy="905.2" r="13.0"/>
<circle cx="1357.5" cy="907.9" r="13.0"/>
<circle cx="1362.2" cy="908.3" r="13.0"/>
<circle cx="1366.8" cy="909.8" r="13.0"/>
<circle cx="1371.5" cy="911.2" r="13.0"/>
<circle cx="1376.1" cy="912.6" r="13.0"/>
<circle cx="1380.8" cy="911.1" r="13.0"/>
<circle cx="1385.4" cy="914.1" r="13.0"/>
<circle cx="1390.1" cy="915" r="13.0"/>
<circle cx="1394.7" cy="914" r="13.0"/>
<circle cx="1399.4" cy="913.7" r="13.0"/>
<circle cx="1404" cy="912.2" r="13.0"/>
<circle cx="1408.7" cy="911.9" r="13.0"/>
<circle cx="1413.3" cy="910.1" r="13.0"/>
<circle cx="1418" cy="910.1" r="13.0"/>
<circle cx="1422.6" cy="910.6" r="13.0"/>
<circle cx="1427.3" cy="911.2" r="13.0"/>
<circle cx="1431.9" cy="912.8" r="13.0"/>
<circle cx="1436.6" cy="913.8" r="13.0"/>
<circle cx="1441.2" cy="915.8" r="13.0"/>
<circle cx="1445.9" cy="915.6" r="13.0"/>
<circle cx="1450.5" cy="917.9" r="13.0"/>
<circle cx="1455.2" cy="918.1" r="13.0"/>
<circle cx="1459.8" cy="917" r="13.0"/>
<circle cx="1464.5" cy="915.4" r="13.0"/>
<circle cx="1469.1" cy="916.6" r="13.0"/>
<circle cx="1473.8" cy="916.8" r="13.0"/>
<circle cx="1478.4" cy="917.5" r="13.0"/>
<circle cx="1483.1" cy="917.1" r="13.0"/>
<circle cx="1487.7" cy="919.6" r="13.0"/>
<circle cx="1492.3" cy="918.9" r="13.0"/>
<circle cx="1497" cy="920.3" r="13.0"/>
<circle cx="1501.6" cy="920.5" r="13.0"/>
<circle cx="1506.3" cy="919.5" r="13.0"/>
<circle cx="1510.9" cy="922.1" r="13.0"/>
</g>
<polyline fill="none" stroke="#4a6bb9" stroke-width="4.5" stroke-linejoin="round" points="409,862.4 413.7,870.7 418.3,884 423,889.4 427.6,894.5 432.3,910.5 436.9,918.6 441.6,917.5 446.2,912.9 450.9,901.2 455.5,894 460.2,883.2 464.8,874.8 469.5,867.9 474.1,851.3 478.8,841 483.4,829.1 488.1,819.2 492.7,810.3 497.4,802.4 502,795.4 506.7,789.1 511.3,782.9 516,776.6 520.6,770.4 525.3,764.3 529.9,758.2 534.6,752.4 539.2,746.7 543.9,740.8 548.5,734.7 553.2,727.5 557.8,718.5 562.5,710.7 567.1,705.7 571.8,699.1 576.4,692.7 581.1,686.5 585.7,680.5 590.4,675.6 595,671.2 599.7,666.6 604.3,662.9 609,659.1 613.6,654 618.3,651.2 622.9,648.6 627.6,645.3 632.2,643.2 636.9,640.6 641.5,637.9 646.2,634 650.8,632 655.5,627.5 660.1,627.3 664.8,625.9 669.4,623.2 674.1,622.4 678.7,620.1 683.4,617.9 688,616.4 692.7,615.6 697.3,615.7 702,616.7 706.6,618.6 711.3,619.1 715.9,620.1 720.6,622.5 725.2,623.1 729.9,622.8 734.5,627.1 739.2,628.2 743.8,631.6 748.5,632.5 753.1,633.8 757.8,635 762.4,637.4 767,641.9 771.7,644.1 776.3,646.9 781,649.7 785.6,651 790.3,652.2 794.9,654.8 799.6,657.2 804.2,660.4 808.9,663 813.5,666.2 818.2,669.8 822.8,671.4 827.5,673.3 832.1,675.3 836.8,678 841.4,678.5 846.1,680.3 850.7,683 855.4,684.8 860,685.5 864.7,686 869.3,686.3 874,687.4 878.6,687.6 883.3,687.4 887.9,688.2 892.6,687.1 897.2,689.6 901.9,690.4 906.5,690.9 911.2,691.7 915.8,691 920.5,691.4 925.1,691.9 929.8,693.2 934.4,691.7 939.1,691.7 943.7,692.8 948.4,693.3 953,693.7 957.7,694.9 962.3,695 967,696.8 971.6,697.8 976.3,699.6 980.9,701 985.6,702.7 990.2,705.5 994.9,707.6 999.5,709.8 1004.2,709.7 1008.8,711.9 1013.5,713.5 1018.1,716 1022.8,718.5 1027.4,720.3 1032.1,722.5 1036.7,723.6 1041.4,725.5 1046,727 1050.7,729.2 1055.3,732 1060,732.3 1064.6,734.7 1069.3,735.1 1073.9,737.4 1078.6,740.1 1083.2,741.1 1087.9,744.5 1092.5,745.1 1097.2,746.9 1101.8,748.1 1106.5,749.8 1111.1,752.5 1115.8,756.2 1120.4,756.6 1125,760.3 1129.7,761.4 1134.3,763.7 1139,764.7 1143.6,766.2 1148.3,766 1152.9,768.3 1157.6,769.2 1162.2,771.5 1166.9,773.3 1171.5,776.7 1176.2,777 1180.8,779.9 1185.5,779.6 1190.1,779.5 1194.8,781.5 1199.4,781.5 1204.1,782.1 1208.7,783.9 1213.4,784 1218,787.4 1222.7,789.3 1227.3,790.7 1232,790.2 1236.6,792.4 1241.3,793.6 1245.9,794.2 1250.6,795.8 1255.2,797 1259.9,797.7 1264.5,798.2 1269.2,798.8 1273.8,799.7 1278.5,800.8 1283.1,801.4 1287.8,801.7 1292.4,802.1 1297.1,802.4 1301.7,804 1306.4,805 1311,805.2 1315.7,806.8 1320.3,807.2 1325,808.3 1329.6,808.7 1334.3,809.7 1338.9,809.1 1343.6,810.2 1348.2,809.7 1352.9,810.3 1357.5,811.8 1362.2,811.4 1366.8,813.3 1371.5,813.5 1376.1,814 1380.8,814.5 1385.4,815.4 1390.1,817.7 1394.7,817 1399.4,818.1 1404,818.6 1408.7,819.5 1413.3,818.5 1418,818.9 1422.6,819.9 1427.3,822.6 1431.9,823.2 1436.6,824 1441.2,823.8 1445.9,825.2 1450.5,825.3 1455.2,826.2 1459.8,827.8 1464.5,829.5 1469.1,829.6 1473.8,830.4 1478.4,831.6 1483.1,833.9 1487.7,835.2 1492.3,835.4 1497,837 1501.6,837.1 1506.3,839.5 1510.9,840.6 1515.6,840.8 1520.2,841.5 1524.9,842.3 1529.5,842.6 1534.2,845.9 1538.8,846.2 1543.5,847.4 1548.1,850.2 1552.8,849.8 1557.4,849.2 1562.1,850.1 1566.7,852.7 1571.4,853.1 1576,854.4 1580.7,854.5 1585.3,854.1 1590,856.2 1594.6,854.7 1599.3,856.1 1603.9,857.7 1608.6,859"/>
<g fill="url(#g5)">
<circle cx="409" cy="862.4" r="13.0"/>
<circle cx="413.7" cy="870.7" r="13.0"/>
<circle cx="418.3" cy="884" r="13.0"/>
<circle cx="423" cy="889.4" r="13.0"/>
<circle cx="427.6" cy="894.5" r="13.0"/>
<circle cx="432.3" cy="910.5" r="13.0"/>
<circle cx="436.9" cy="918.6" r="13.0"/>
<circle cx="441.6" cy="917.5" r="13.0"/>
<circle cx="446.2" cy="912.9" r="13.0"/>
<circle cx="450.9" cy="901.2" r="13.0"/>
<circle cx="455.5" cy="894" r="13.0"/>
<circle cx="460.2" cy="883.2" r="13.0"/>
<circle cx="464.8" cy="874.8" r="13.0"/>
<circle cx="469.5" cy="867.9" r="13.0"/>
<circle cx="474.1" cy="851.3" r="13.0"/>
<circle cx="478.8" cy="841" r="13.0"/>
<circle cx="483.4" cy="829.1" r="13.0"/>
<circle cx="488.1" cy="819.2" r="13.0"/>
<circle cx="492.7" cy="810.3" r="13.0"/>
<circle cx="497.4" cy="802.4" r="13.0"/>
<circle cx="502" cy="795.4" r="13.0"/>
<circle cx="506.7" cy="789.1" r="13.0"/>
<circle cx="511.3" cy="782.9" r="13.0"/>
<circle cx="516" cy="776.6" r="13.0"/>
<circle cx="520.6" cy="770.4" r="13.0"/>
<circle cx="525.3" cy="764.3" r="13.0"/>
<circle cx="529.9" cy="758.2" r="13.0"/>
<circle cx="534.6" cy="752.4" r="13.0"/>
<circle cx="539.2" cy="746.7" r="13.0"/>
<circle cx="543.9" cy="740.8" r="13.0"/>
<circle cx="548.5" cy="734.7" r="13.0"/>
<circle cx="553.2" cy="727.5" r="13.0"/>
<circle cx="557.8" cy="718.5" r="13.0"/>
<circle cx="562.5" cy="710.7" r="13.0"/>
<circle cx="567.1" cy="705.7" r="13.0"/>
<circle cx="571.8" cy="699.1" r="13.0"/>
<circle cx="576.4" cy="692.7" r="13.0"/>
<circle cx="581.1" cy="686.5" r="13.0"/>
<circle cx="585.7" cy="680.5" r="13.0"/>
<circle cx="590.4" cy="675.6" r="13.0"/>
<circle cx="595" cy="671.2" r="13.0"/>
<circle cx="599.7" cy="666.6" r="13.0"/>
<circle cx="604.3" cy="662.9" r="13.0"/>
<circle cx="609" cy="659.1" r="13.0"/>
<circle cx="613.6" cy="654" r="13.0"/>
<circle cx="618.3" cy="651.2" r="13.0"/>
<circle cx="622.9" cy="648.6" r="13.0"/>
<circle cx="627.6" cy="645.3" r="13.0"/>
<circle cx="632.2" cy="643.2" r="13.0"/>
<circle cx="636.9" cy="640.6" r="13.0"/>
<circle cx="641.5" cy="637.9" r="13.0"/>
<circle cx="646.2" cy="634" r="13.0"/>
<circle cx="650.8" cy="632" r="13.0"/>
<circle cx="655.5" cy="627.5" r="13.0"/>
<circle cx="660.1" cy="627.3" r="13.0"/>
<circle cx="664.8" cy="625.9" r="13.0"/>
<circle cx="669.4" cy="623.2" r="13.0"/>
<circle cx="674.1" cy="622.4" r="13.0"/>
<circle cx="678.7" cy="620.1" r="13.0"/>
<circle cx="683.4" cy="617.9" r="13.0"/>
<circle cx="688" cy="616.4" r="13.0"/>
<circle cx="692.7" cy="615.6" r="13.0"/>
<circle cx="697.3" cy="615.7" r="13.0"/>
<circle cx="702" cy="616.7" r="13.0"/>
<circle cx="706.6" cy="618.6" r="13.0"/>
<circle cx="711.3" cy="619.1" r="13.0"/>
<circle cx="715.9" cy="620.1" r="13.0"/>
<circle cx="720.6" cy="622.5" r="13.0"/>
<circle cx="725.2" cy="623.1" r="13.0"/>
<circle cx="729.9" cy="622.8" r="13.0"/>
<circle cx="734.5" cy="627.1" r="13.0"/>
<circle cx="739.2" cy="628.2" r="13.0"/>
<circle cx="743.8" cy="631.6" r="13.0"/>
<circle cx="748.5" cy="632.5" r="13.0"/>
<circle cx="753.1" cy="633.8" r="13.0"/>
<circle cx="757.8" cy="635" r="13.0"/>
<circle cx="762.4" cy="637.4" r="13.0"/>
<circle cx="767" cy="641.9" r="13.0"/>
<circle cx="771.7" cy="644.1" r="13.0"/>
<circle cx="776.3" cy="646.9" r="13.0"/>
<circle cx="781" cy="649.7" r="13.0"/>
<circle cx="785.6" cy="651" r="13.0"/>
<circle cx="790.3" cy="652.2" r="13.0"/>
<circle cx="794.9" cy="654.8" r="13.0"/>
<circle cx="799.6" cy="657.2" r="13.0"/>
<circle cx="804.2" cy="660.4" r="13.0"/>
<circle cx="808.9" cy="663" r="13.0"/>
<circle cx="813.5" cy="666.2" r="13.0"/>
<circle cx="818.2" cy="669.8" r="13.0"/>
<circle cx="822.8" cy="671.4" r="13.0"/>
<circle cx="827.5" cy="673.3" r="13.0"/>
<circle cx="832.1" cy="675.3" r="13.0"/>
<circle cx="836.8" cy="678" r="13.0"/>
<circle cx="841.4" cy="678.5" r="13.0"/>
<circle cx="846.1" cy="680.3" r="13.0"/>
<circle cx="850.7" cy="683" r="13.0"/>
<circle cx="855.4" cy="684.8" r="13.0"/>
<circle cx="860" cy="685.5" r="13.0"/>
<circle cx="864.7" cy="686" r="13.0"/>
<circle cx="869.3" cy="686.3" r="13.0"/>
<circle cx="874" cy="687.4" r="13.0"/>
<circle cx="878.6" cy="687.6" r="13.0"/>
<circle cx="883.3" cy="687.4" r="13.0"/>
<circle cx="887.9" cy="688.2" r="13.0"/>
<circle cx="892.6" cy="687.1" r="13.0"/>
<circle cx="897.2" cy="689.6" r="13.0"/>
<circle cx="901.9" cy="690.4" r="13.0"/>
<circle cx="906.5" cy="690.9" r="13.0"/>
<circle cx="911.2" cy="691.7" r="13.0"/>
<circle cx="915.8" cy="691" r="13.0"/>
<circle cx="920.5" cy="691.4" r="13.0"/>
<circle cx="925.1" cy="691.9" r="13.0"/>
<circle cx="929.8" cy="693.2" r="13.0"/>
<circle cx="934.4" cy="691.7" r="13.0"/>
<circle cx="939.1" cy="691.7" r="13.0"/>
<circle cx="943.7" cy="692.8" r="13.0"/>
<circle cx="948.4" cy="693.3" r="13.0"/>
<circle cx="953" cy="693.7" r="13.0"/>
<circle cx="957.7" cy="694.9" r="13.0"/>
<circle cx="962.3" cy="695" r="13.0"/>
<circle cx="967" cy="696.8" r="13.0"/>
<circle cx="971.6" cy="697.8" r="13.0"/>
<circle cx="976.3" cy="699.6" r="13.0"/>
<circle cx="980.9" cy="701" r="13.0"/>
<circle cx="985.6" cy="702.7" r="13.0"/>
<circle cx="990.2" cy="705.5" r="13.0"/>
<circle cx="994.9" cy="707.6" r="13.0"/>
<circle cx="999.5" cy="709.8" r="13.0"/>
<circle cx="1004.2" cy="709.7" r="13.0"/>
<circle cx="1008.8" cy="711.9" r="13.0"/>
<circle cx="1013.5" cy="713.5" r="13.0"/>
<circle cx="1018.1" cy="716" r="13.0"/>
<circle cx="1022.8" cy="718.5" r="13.0"/>
<circle cx="1027.4" cy="720.3" r="13.0"/>
<circle cx="1032.1" cy="722.5" r="13.0"/>
<circle cx="1036.7" cy="723.6" r="13.0"/>
<circle cx="1041.4" cy="725.5" r="13.0"/>
<circle cx="1046" cy="727" r="13.0"/>
<circle cx="1050.7" cy="729.2" r="13.0"/>
<circle cx="1055.3" cy="732" r="13.0"/>
<circle cx="1060" cy="732.3" r="13.0"/>
<circle cx="1064.6" cy="734.7" r="13.0"/>
<circle cx="1069.3" cy="735.1" r="13.0"/>
<circle cx="1073.9" cy="737.4" r="13.0"/>
<circle cx="1078.6" cy="740.1" r="13.0"/>
<circle cx="1083.2" cy="741.1" r="13.0"/>
<circle cx="1087.9" cy="744.5" r="13.0"/>
<circle cx="1092.5" cy="745.1" r="13.0"/>
<circle cx="1097.2" cy="746.9" r="13.0"/>
<circle cx="1101.8" cy="748.1" r="13.0"/>
<circle cx="1106.5" cy="749.8" r="13.0"/>
<circle cx="1111.1" cy="752.5" r="13.0"/>
<circle cx="1115.8" cy="756.2" r="13.0"/>
<circle cx="1120.4" cy="756.6" r="13.0"/>
<circle cx="1125" cy="760.3" r="13.0"/>
<circle cx="1129.7" cy="761.4" r="13.0"/>
<circle cx="1134.3" cy="763.7" r="13.0"/>
<circle cx="1139" cy="764.7" r="13.0"/>
<circle cx="1143.6" cy="766.2" r="13.0"/>
<circle cx="1148.3" cy="766" r="13.0"/>
<circle cx="1152.9" cy="768.3" r="13.0"/>
<circle cx="1157.6" cy="769.2" r="13.0"/>
<circle cx="1162.2" cy="771.5" r="13.0"/>
<circle cx="1166.9" cy="773.3" r="13.0"/>
<circle cx="1171.5" cy="776.7" r="13.0"/>
<circle cx="1176.2" cy="777" r="13.0"/>
<circle cx="1180.8" cy="779.9" r="13.0"/>
<circle cx="1185.5" cy="779.6" r="13.0"/>
<circle cx="1190.1" cy="779.5" r="13.0"/>
<circle cx="1194.8" cy="781.5" r="13.0"/>
<circle cx="1199.4" cy="781.5" r="13.0"/>
<circle cx="1204.1" cy="782.1" r="13.0"/>
<circle cx="1208.7" cy="783.9" r="13.0"/>
<circle cx="1213.4" cy="784" r="13.0"/>
<circle cx="1218" cy="787.4" r="13.0"/>
<circle cx="1222.7" cy="789.3" r="13.0"/>
<circle cx="1227.3" cy="790.7" r="13.0"/>
<circle cx="1232" cy="790.2" r="13.0"/>
<circle cx="1236.6" cy="792.4" r="13.0"/>
<circle cx="1241.3" cy="793.6" r="13.0"/>
<circle cx="1245.9" cy="794.2" r="13.0"/>
<circle cx="1250.6" cy="795.8" r="13.0"/>
<circle cx="1255.2" cy="797" r="13.0"/>
<circle cx="1259.9" cy="797.7" r="13.0"/>
<circle cx="1264.5" cy="798.2" r="13.0"/>
<circle cx="1269.2" cy="798.8" r="13.0"/>
<circle cx="1273.8" cy="799.7" r="13.0"/>
<circle cx="1278.5" cy="800.8" r="13.0"/>
<circle cx="1283.1" cy="801.4" r="13.0"/>
<circle cx="1287.8" cy="801.7" r="13.0"/>
<circle cx="1292.4" cy="802.1" r="13.0"/>
<circle cx="1297.1" cy="802.4" r="13.0"/>
<circle cx="1301.7" cy="804" r="13.0"/>
<circle cx="1306.4" cy="805" r="13.0"/>
<circle cx="1311" cy="805.2" r="13.0"/>
<circle cx="1315.7" cy="806.8" r="13.0"/>
<circle cx="1320.3" cy="807.2" r="13.0"/>
<circle cx="1325" cy="808.3" r="13.0"/>
<circle cx="1329.6" cy="808.7" r="13.0"/>
<circle cx="1334.3" cy="809.7" r="13.0"/>
<circle cx="1338.9" cy="809.1" r="13.0"/>
<circle cx="1343.6" cy="810.2" r="13.0"/>
<circle cx="1348.2" cy="809.7" r="13.0"/>
<circle cx="1352.9" cy="810.3" r="13.0"/>
<circle cx="1357.5" cy="811.8" r="13.0"/>
<circle cx="1362.2" cy="811.4" r="13.0"/>
<circle cx="1366.8" cy="813.3" r="13.0"/>
<circle cx="1371.5" cy="813.5" r="13.0"/>
<circle cx="1376.1" cy="814" r="13.0"/>
<circle cx="1380.8" cy="814.5" r="13.0"/>
<circle cx="1385.4" cy="815.4" r="13.0"/>
<circle cx="1390.1" cy="817.7" r="13.0"/>
<circle cx="1394.7" cy="817" r="13.0"/>
<circle cx="1399.4" cy="818.1" r="13.0"/>
<circle cx="1404" cy="818.6" r="13.0"/>
<circle cx="1408.7" cy="819.5" r="13.0"/>
<circle cx="1413.3" cy="818.5" r="13.0"/>
<circle cx="1418" cy="818.9" r="13.0"/>
<circle cx="1422.6" cy="819.9" r="13.0"/>
<circle cx="1427.3" cy="822.6" r="13.0"/>
<circle cx="1431.9" cy="823.2" r="13.0"/>
<circle cx="1436.6" cy="824" r="13.0"/>
<circle cx="1441.2" cy="823.8" r="13.0"/>
<circle cx="1445.9" cy="825.2" r="13.0"/>
<circle cx="1450.5" cy="825.3" r="13.0"/>
<circle cx="1455.2" cy="826.2" r="13.0"/>
<circle cx="1459.8" cy="827.8" r="13.0"/>
<circle cx="1464.5" cy="829.5" r="13.0"/>
<circle cx="1469.1" cy="829.6" r="13.0"/>
<circle cx="1473.8" cy="830.4" r="13.0"/>
<circle cx="1478.4" cy="831.6" r="13.0"/>
<circle cx="1483.1" cy="833.9" r="13.0"/>
<circle cx="1487.7" cy="835.2" r="13.0"/>
<circle cx="1492.3" cy="835.4" r="13.0"/>
<circle cx="1497" cy="837" r="13.0"/>
<circle cx="1501.6" cy="837.1" r="13.0"/>
<circle cx="1506.3" cy="839.5" r="13.0"/>
<circle cx="1510.9" cy="840.6" r="13.0"/>
<circle cx="1515.6" cy="840.8" r="13.0"/>
<circle cx="1520.2" cy="841.5" r="13.0"/>
<circle cx="1524.9" cy="842.3" r="13.0"/>
<circle cx="1529.5" cy="842.6" r="13.0"/>
<circle cx="1534.2" cy="845.9" r="13.0"/>
<circle cx="1538.8" cy="846.2" r="13.0"/>
<circle cx="1543.5" cy="847.4" r="13.0"/>
<circle cx="1548.1" cy="850.2" r="13.0"/>
<circle cx="1552.8" cy="849.8" r="13.0"/>
<circle cx="1557.4" cy="849.2" r="13.0"/>
<circle cx="1562.1" cy="850.1" r="13.0"/>
<circle cx="1566.7" cy="852.7" r="13.0"/>
<circle cx="1571.4" cy="853.1" r="13.0"/>
<circle cx="1576" cy="854.4" r="13.0"/>
<circle cx="1580.7" cy="854.5" r="13.0"/>
<circle cx="1585.3" cy="854.1" r="13.0"/>
<circle cx="1590" cy="856.2" r="13.0"/>
<circle cx="1594.6" cy="854.7" r="13.0"/>
<circle cx="1599.3" cy="856.1" r="13.0"/>
<circle cx="1603.9" cy="857.7" r="13.0"/>
<circle cx="1608.6" cy="859" r="13.0"/>
</g>
<polyline fill="none" stroke="#eea268" stroke-width="4.5" stroke-linejoin="round" points="409,867.2 413.7,872.1 418.3,881.8 423,889.7 427.6,897.8 432.3,911.7 436.9,888 441.6,860.5 446.2,838 450.9,824.6 455.5,805.8 460.2,785.5 464.8,768.2 469.5,754.1 474.1,740 478.8,724.2 483.4,707.5 488.1,692.7 492.7,680.4 497.4,667.7 502,651.9 506.7,643.1 511.3,633.5 516,628.5 520.6,626.7 525.3,627 529.9,631.1 534.6,636.7 539.2,642.8 543.9,650.2 548.5,657.6 553.2,664.3 557.8,670.5 562.5,683.6 567.1,692.2 571.8,698.9 576.4,705.2 581.1,711 585.7,716.8 590.4,722.7 595,727 599.7,731.4 604.3,737.1 609,749.1 613.6,757.8 618.3,763 622.9,774.7 627.6,785.7 632.2,795.3 636.9,802.7 641.5,808.8 646.2,813.8 650.8,817.6 655.5,819.8 660.1,822.3 664.8,825.2 669.4,827.6 674.1,830.5 678.7,831.7 683.4,834.2 688,837.2 692.7,837.4 697.3,839.2 702,842.2 706.6,845 711.3,849 715.9,850.5 720.6,850.7 725.2,852.9 729.9,850.5 734.5,851.6 739.2,852.2 743.8,850.8 748.5,850.6 753.1,851.3 757.8,851.3 762.4,851.3 767,850.7 771.7,849.2 776.3,849.1 781,850.7 785.6,849.4 790.3,850.8 794.9,850.8 799.6,851.1 804.2,850 808.9,850.4 813.5,849.8 818.2,850.8 822.8,850.3 827.5,851 832.1,852.4 836.8,852.7 841.4,853.3 846.1,851.1 850.7,852.3 855.4,852.6 860,852.2 864.7,850.2 869.3,849.6 874,848.5 878.6,848.3 883.3,846.7 887.9,846.1 892.6,844.7 897.2,847 901.9,848.4 906.5,849.9 911.2,851.5 915.8,852.6 920.5,853.2 925.1,852.5 929.8,853.5 934.4,852.2 939.1,852.1 943.7,852.8 948.4,853.4 953,853.3 957.7,854.5 962.3,857.1 967,857.3 971.6,859.6 976.3,860.8 980.9,859.2 985.6,860.3 990.2,859.4 994.9,861.3 999.5,862.3 1004.2,862.8 1008.8,862.6 1013.5,862.1 1018.1,861.1 1022.8,861.2 1027.4,863.7 1032.1,863 1036.7,865.9 1041.4,866.1 1046,867.9 1050.7,869.2 1055.3,868.7 1060,866.4 1064.6,865.4 1069.3,863.3 1073.9,863.5 1078.6,860.7 1083.2,860.4 1087.9,859.5 1092.5,862 1097.2,860.6 1101.8,861.8 1106.5,859.7 1111.1,859.9 1115.8,860.8 1120.4,861.2 1125,863.1 1129.7,864 1134.3,866 1139,866.2 1143.6,865.7 1148.3,865.2 1152.9,865.1 1157.6,865.8 1162.2,864.5 1166.9,864.6 1171.5,865.9 1176.2,867.7 1180.8,866.9 1185.5,866.9 1190.1,869.7 1194.8,869.7 1199.4,871.9 1204.1,873.3 1208.7,873.5 1213.4,873.3 1218,873.5 1222.7,872.6 1227.3,870.7 1232,871 1236.6,870.1 1241.3,868.3 1245.9,868.9 1250.6,866.4 1255.2,865.1 1259.9,864 1264.5,863.1 1269.2,862.5 1273.8,861.8 1278.5,863.9 1283.1,865.2 1287.8,865.5 1292.4,866.2 1297.1,866.9 1301.7,867 1306.4,866.4 1311,867.2 1315.7,868.1 1320.3,868.4 1325,867.4 1329.6,867.3 1334.3,868.8 1338.9,869.2 1343.6,871.2 1348.2,872 1352.9,872.4 1357.5,872 1362.2,872.9 1366.8,875 1371.5,872.6 1376.1,873 1380.8,875.2"/>
<g fill="url(#g2)">
<circle cx="409" cy="867.2" r="13.0"/>
<circle cx="413.7" cy="872.1" r="13.0"/>
<circle cx="418.3" cy="881.8" r="13.0"/>
<circle cx="423" cy="889.7" r="13.0"/>
<circle cx="427.6" cy="897.8" r="13.0"/>
<circle cx="432.3" cy="911.7" r="13.0"/>
<circle cx="436.9" cy="888" r="13.0"/>
<circle cx="441.6" cy="860.5" r="13.0"/>
<circle cx="446.2" cy="838" r="13.0"/>
<circle cx="450.9" cy="824.6" r="13.0"/>
<circle cx="455.5" cy="805.8" r="13.0"/>
<circle cx="460.2" cy="785.5" r="13.0"/>
<circle cx="464.8" cy="768.2" r="13.0"/>
<circle cx="469.5" cy="754.1" r="13.0"/>
<circle cx="474.1" cy="740" r="13.0"/>
<circle cx="478.8" cy="724.2" r="13.0"/>
<circle cx="483.4" cy="707.5" r="13.0"/>
<circle cx="488.1" cy="692.7" r="13.0"/>
<circle cx="492.7" cy="680.4" r="13.0"/>
<circle cx="497.4" cy="667.7" r="13.0"/>
<circle cx="502" cy="651.9" r="13.0"/>
<circle cx="506.7" cy="643.1" r="13.0"/>
<circle cx="511.3" cy="633.5" r="13.0"/>
<circle cx="516" cy="628.5" r="13.0"/>
<circle cx="520.6" cy="626.7" r="13.0"/>
<circle cx="525.3" cy="627" r="13.0"/>
<circle cx="529.9" cy="631.1" r="13.0"/>
<circle cx="534.6" cy="636.7" r="13.0"/>
<circle cx="539.2" cy="642.8" r="13.0"/>
<circle cx="543.9" cy="650.2" r="13.0"/>
<circle cx="548.5" cy="657.6" r="13.0"/>
<circle cx="553.2" cy="664.3" r="13.0"/>
<circle cx="557.8" cy="670.5" r="13.0"/>
<circle cx="562.5" cy="683.6" r="13.0"/>
<circle cx="567.1" cy="692.2" r="13.0"/>
<circle cx="571.8" cy="698.9" r="13.0"/>
<circle cx="576.4" cy="705.2" r="13.0"/>
<circle cx="581.1" cy="711" r="13.0"/>
<circle cx="585.7" cy="716.8" r="13.0"/>
<circle cx="590.4" cy="722.7" r="13.0"/>
<circle cx="595" cy="727" r="13.0"/>
<circle cx="599.7" cy="731.4" r="13.0"/>
<circle cx="604.3" cy="737.1" r="13.0"/>
<circle cx="609" cy="749.1" r="13.0"/>
<circle cx="613.6" cy="757.8" r="13.0"/>
<circle cx="618.3" cy="763" r="13.0"/>
<circle cx="622.9" cy="774.7" r="13.0"/>
<circle cx="627.6" cy="785.7" r="13.0"/>
<circle cx="632.2" cy="795.3" r="13.0"/>
<circle cx="636.9" cy="802.7" r="13.0"/>
<circle cx="641.5" cy="808.8" r="13.0"/>
<circle cx="646.2" cy="813.8" r="13.0"/>
<circle cx="650.8" cy="817.6" r="13.0"/>
<circle cx="655.5" cy="819.8" r="13.0"/>
<circle cx="660.1" cy="822.3" r="13.0"/>
<circle cx="664.8" cy="825.2" r="13.0"/>
<circle cx="669.4" cy="827.6" r="13.0"/>
<circle cx="674.1" cy="830.5" r="13.0"/>
<circle cx="678.7" cy="831.7" r="13.0"/>
<circle cx="683.4" cy="834.2" r="13.0"/>
<circle cx="688" cy="837.2" r="13.0"/>
<circle cx="692.7" cy="837.4" r="13.0"/>
<circle cx="697.3" cy="839.2" r="13.0"/>
<circle cx="702" cy="842.2" r="13.0"/>
<circle cx="706.6" cy="845" r="13.0"/>
<circle cx="711.3" cy="849" r="13.0"/>
<circle cx="715.9" cy="850.5" r="13.0"/>
<circle cx="720.6" cy="850.7" r="13.0"/>
<circle cx="725.2" cy="852.9" r="13.0"/>
<circle cx="729.9" cy="850.5" r="13.0"/>
<circle cx="734.5" cy="851.6" r="13.0"/>
<circle cx="739.2" cy="852.2" r="13.0"/>
<circle cx="743.8" cy="850.8" r="13.0"/>
<circle cx="748.5" cy="850.6" r="13.0"/>
<circle cx="753.1" cy="851.3" r="13.0"/>
<circle cx="757.8" cy="851.3" r="13.0"/>
<circle cx="762.4" cy="851.3" r="13.0"/>
<circle cx="767" cy="850.7" r="13.0"/>
<circle cx="771.7" cy="849.2" r="13.0"/>
<circle cx="776.3" cy="849.1" r="13.0"/>
<circle cx="781" cy="850.7" r="13.0"/>
<circle cx="785.6" cy="849.4" r="13.0"/>
<circle cx="790.3" cy="850.8" r="13.0"/>
<circle cx="794.9" cy="850.8" r="13.0"/>
<circle cx="799.6" cy="851.1" r="13.0"/>
<circle cx="804.2" cy="850" r="13.0"/>
<circle cx="808.9" cy="850.4" r="13.0"/>
<circle cx="813.5" cy="849.8" r="13.0"/>
<circle cx="818.2" cy="850.8" r="13.0"/>
<circle cx="822.8" cy="850.3" r="13.0"/>
<circle cx="827.5" cy="851" r="13.0"/>
<circle cx="832.1" cy="852.4" r="13.0"/>
<circle cx="836.8" cy="852.7" r="13.0"/>
<circle cx="841.4" cy="853.3" r="13.0"/>
<circle cx="846.1" cy="851.1" r="13.0"/>
<circle cx="850.7" cy="852.3" r="13.0"/>
<circle cx="855.4" cy="852.6" r="13.0"/>
<circle cx="860" cy="852.2" r="13.0"/>
<circle cx="864.7" cy="850.2" r="13.0"/>
<circle cx="869.3" cy="849.6" r="13.0"/>
<circle cx="874" cy="848.5" r="13.0"/>
<circle cx="878.6" cy="848.3" r="13.0"/>
<circle cx="883.3" cy="846.7" r="13.0"/>
<circle cx="887.9" cy="846.1" r="13.0"/>
<circle cx="892.6" cy="844.7" r="13.0"/>
<circle cx="897.2" cy="847" r="13.0"/>
<circle cx="901.9" cy="848.4" r="13.0"/>
<circle cx="906.5" cy="849.9" r="13.0"/>
<circle cx="911.2" cy="851.5" r="13.0"/>
<circle cx="915.8" cy="852.6" r="13.0"/>
<circle cx="920.5" cy="853.2" r="13.0"/>
<circle cx="925.1" cy="852.5" r="13.0"/>
<circle cx="929.8" cy="853.5" r="13.0"/>
<circle cx="934.4" cy="852.2" r="13.0"/>
<circle cx="939.1" cy="852.1" r="13.0"/>
<circle cx="943.7" cy="852.8" r="13.0"/>
<circle cx="948.4" cy="853.4" r="13.0"/>
<circle cx="953" cy="853.3" r="13.0"/>
<circle cx="957.7" cy="854.5" r="13.0"/>
<circle cx="962.3" cy="857.1" r="13.0"/>
<circle cx="967" cy="857.3" r="13.0"/>
<circle cx="971.6" cy="859.6" r="13.0"/>
<circle cx="976.3" cy="860.8" r="13.0"/>
<circle cx="980.9" cy="859.2" r="13.0"/>
<circle cx="985.6" cy="860.3" r="13.0"/>
<circle cx="990.2" cy="859.4" r="13.0"/>
<circle cx="994.9" cy="861.3" r="13.0"/>
<circle cx="999.5" cy="862.3" r="13.0"/>
<circle cx="1004.2" cy="862.8" r="13.0"/>
<circle cx="1008.8" cy="862.6" r="13.0"/>
<circle cx="1013.5" cy="862.1" r="13.0"/>
<circle cx="1018.1" cy="861.1" r="13.0"/>
<circle cx="1022.8" cy="861.2" r="13.0"/>
<circle cx="1027.4" cy="863.7" r="13.0"/>
<circle cx="1032.1" cy="863" r="13.0"/>
<circle cx="1036.7" cy="865.9" r="13.0"/>
<circle cx="1041.4" cy="866.1" r="13.0"/>
<circle cx="1046" cy="867.9" r="13.0"/>
<circle cx="1050.7" cy="869.2" r="13.0"/>
<circle cx="1055.3" cy="868.7" r="13.0"/>
<circle cx="1060" cy="866.4" r="13.0"/>
<circle cx="1064.6" cy="865.4" r="13.0"/>
<circle cx="1069.3" cy="863.3" r="13.0"/>
<circle cx="1073.9" cy="863.5" r="13.0"/>
<circle cx="1078.6" cy="860.7" r="13.0"/>
<circle cx="1083.2" cy="860.4" r="13.0"/>
<circle cx="1087.9" cy="859.5" r="13.0"/>
<circle cx="1092.5" cy="862" r="13.0"/>
<circle cx="1097.2" cy="860.6" r="13.0"/>
<circle cx="1101.8" cy="861.8" r="13.0"/>
<circle cx="1106.5" cy="859.7" r="13.0"/>
<circle cx="1111.1" cy="859.9" r="13.0"/>
<circle cx="1115.8" cy="860.8" r="13.0"/>
<circle cx="1120.4" cy="861.2" r="13.0"/>
<circle cx="1125" cy="863.1" r="13.0"/>
<circle cx="1129.7" cy="864" r="13.0"/>
<circle cx="1134.3" cy="866" r="13.0"/>
<circle cx="1139" cy="866.2" r="13.0"/>
<circle cx="1143.6" cy="865.7" r="13.0"/>
<circle cx="1148.3" cy="865.2" r="13.0"/>
<circle cx="1152.9" cy="865.1" r="13.0"/>
<circle cx="1157.6" cy="865.8" r="13.0"/>
<circle cx="1162.2" cy="864.5" r="13.0"/>
<circle cx="1166.9" cy="864.6" r="13.0"/>
<circle cx="1171.5" cy="865.9" r="13.0"/>
<circle cx="1176.2" cy="867.7" r="13.0"/>
<circle cx="1180.8" cy="866.9" r="13.0"/>
<circle cx="1185.5" cy="866.9" r="13.0"/>
<circle cx="1190.1" cy="869.7" r="13.0"/>
<circle cx="1194.8" cy="869.7" r="13.0"/>
<circle cx="1199.4" cy="871.9" r="13.0"/>
<circle cx="1204.1" cy="873.3" r="13.0"/>
<circle cx="1208.7" cy="873.5" r="13.0"/>
<circle cx="1213.4" cy="873.3" r="13.0"/>
<circle cx="1218" cy="873.5" r="13.0"/>
<circle cx="1222.7" cy="872.6" r="13.0"/>
<circle cx="1227.3" cy="870.7" r="13.0"/>
<circle cx="1232" cy="871" r="13.0"/>
<circle cx="1236.6" cy="870.1" r="13.0"/>
<circle cx="1241.3" cy="868.3" r="13.0"/>
<circle cx="1245.9" cy="868.9" r="13.0"/>
<circle cx="1250.6" cy="866.4" r="13.0"/>
<circle cx="1255.2" cy="865.1" r="13.0"/>
<circle cx="1259.9" cy="864" r="13.0"/>
<circle cx="1264.5" cy="863.1" r="13.0"/>
<circle cx="1269.2" cy="862.5" r="13.0"/>
<circle cx="1273.8" cy="861.8" r="13.0"/>
<circle cx="1278.5" cy="863.9" r="13.0"/>
<circle cx="1283.1" cy="865.2" r="13.0"/>
<circle cx="1287.8" cy="865.5" r="13.0"/>
<circle cx="1292.4" cy="866.2" r="13.0"/>
<circle cx="1297.1" cy="866.9" r="13.0"/>
<circle cx="1301.7" cy="867" r="13.0"/>
<circle cx="1306.4" cy="866.4" r="13.0"/>
<circle cx="1311" cy="867.2" r="13.0"/>
<circle cx="1315.7" cy="868.1" r="13.0"/>
<circle cx="1320.3" cy="868.4" r="13.0"/>
<circle cx="1325" cy="867.4" r="13.0"/>
<circle cx="1329.6" cy="867.3" r="13.0"/>
<circle cx="1334.3" cy="868.8" r="13.0"/>
<circle cx="1338.9" cy="869.2" r="13.0"/>
<circle cx="1343.6" cy="871.2" r="13.0"/>
<circle cx="1348.2" cy="872" r="13.0"/>
<circle cx="1352.9" cy="872.4" r="13.0"/>
<circle cx="1357.5" cy="872" r="13.0"/>
<circle cx="1362.2" cy="872.9" r="13.0"/>
<circle cx="1366.8" cy="875" r="13.0"/>
<circle cx="1371.5" cy="872.6" r="13.0"/>
<circle cx="1376.1" cy="873" r="13.0"/>
<circle cx="1380.8" cy="875.2" r="13.0"/>
</g>
<polyline fill="none" stroke="#e8509f" stroke-width="4.5" stroke-linejoin="round" points="409,856.4 413.7,874.9 418.3,892.9 423,902.9 427.6,913.9 432.3,865.1 436.9,829.7 441.6,789.9 446.2,772.6 450.9,738.6 455.5,724.7 460.2,709.3 464.8,691.5 469.5,666.1 474.1,664.1 478.8,667.1 483.4,670.5 488.1,674.8 492.7,679.5 497.4,683.6 502,688.9 506.7,694.3 511.3,700.3 516,706.4 520.6,719.8 525.3,732.6 529.9,786.9 534.6,809.5 539.2,816.2 543.9,822.9 548.5,831.9 553.2,838.3 557.8,843.2 562.5,848.2 567.1,853 571.8,857.1 576.4,862.1 581.1,868.1 585.7,874.7 590.4,876.7 595,876.5 599.7,880.2 604.3,879.7 609,880.7 613.6,882.6 618.3,883.5 622.9,883.2 627.6,884.5 632.2,885.3 636.9,886.7 641.5,889.5 646.2,889.5 650.8,889.6 655.5,890.8 660.1,890.1 664.8,890.8 669.4,891.3 674.1,890.1 678.7,893 683.4,895.1 688,896.3 692.7,896.5 697.3,898.9 702,898.9 706.6,900.3 711.3,904 715.9,902.4 720.6,903.8 725.2,905.4 729.9,907.3 734.5,910.1 739.2,910.1 743.8,910.6 748.5,910.4 753.1,909.6 757.8,907.3 762.4,907.3 767,906.6 771.7,908 776.3,909.3 781,911.7 785.6,911.1 790.3,911.3 794.9,910.2 799.6,911.8 804.2,912.9 808.9,914.4 813.5,915.4 818.2,914.7 822.8,915 827.5,915.9 832.1,916.6 836.8,917.8 841.4,915.8 846.1,917.7 850.7,919.1 855.4,919.3 860,919.8 864.7,919 869.3,921.7 874,922 878.6,923.2 883.3,926.7 887.9,926.1 892.6,927.8 897.2,928 901.9,926.6 906.5,922.8 911.2,922.7 915.8,921.5 920.5,923.3 925.1,926 929.8,926.8 934.4,928.9 939.1,929.2 943.7,932.2 948.4,932.6 953,931.1 957.7,931.6 962.3,931.7 967,931 971.6,931.1 976.3,931 980.9,929.4 985.6,930 990.2,927.2 994.9,926.8 999.5,925.9 1004.2,926.3 1008.8,926.2 1013.5,928.6 1018.1,929.7 1022.8,929.3 1027.4,928 1032.1,926.8 1036.7,926.5 1041.4,925.5 1046,924 1050.7,924.7 1055.3,924.7 1060,927.8 1064.6,928 1069.3,925.7 1073.9,923.6 1078.6,923.8 1083.2,923.4 1087.9,924.4 1092.5,928.7 1097.2,928.7 1101.8,928.7 1106.5,925.5 1111.1,926.9 1115.8,927 1120.4,928.3 1125,927.8 1129.7,928.7 1134.3,931.3"/>
<g fill="url(#g1)">
<circle cx="409" cy="856.4" r="13.0"/>
<circle cx="413.7" cy="874.9" r="13.0"/>
<circle cx="418.3" cy="892.9" r="13.0"/>
<circle cx="423" cy="902.9" r="13.0"/>
<circle cx="427.6" cy="913.9" r="13.0"/>
<circle cx="432.3" cy="865.1" r="13.0"/>
<circle cx="436.9" cy="829.7" r="13.0"/>
<circle cx="441.6" cy="789.9" r="13.0"/>
<circle cx="446.2" cy="772.6" r="13.0"/>
<circle cx="450.9" cy="738.6" r="13.0"/>
<circle cx="455.5" cy="724.7" r="13.0"/>
<circle cx="460.2" cy="709.3" r="13.0"/>
<circle cx="464.8" cy="691.5" r="13.0"/>
<circle cx="469.5" cy="666.1" r="13.0"/>
<circle cx="474.1" cy="664.1" r="13.0"/>
<circle cx="478.8" cy="667.1" r="13.0"/>
<circle cx="483.4" cy="670.5" r="13.0"/>
<circle cx="488.1" cy="674.8" r="13.0"/>
<circle cx="492.7" cy="679.5" r="13.0"/>
<circle cx="497.4" cy="683.6" r="13.0"/>
<circle cx="502" cy="688.9" r="13.0"/>
<circle cx="506.7" cy="694.3" r="13.0"/>
<circle cx="511.3" cy="700.3" r="13.0"/>
<circle cx="516" cy="706.4" r="13.0"/>
<circle cx="520.6" cy="719.8" r="13.0"/>
<circle cx="525.3" cy="732.6" r="13.0"/>
<circle cx="529.9" cy="786.9" r="13.0"/>
<circle cx="534.6" cy="809.5" r="13.0"/>
<circle cx="539.2" cy="816.2" r="13.0"/>
<circle cx="543.9" cy="822.9" r="13.0"/>
<circle cx="548.5" cy="831.9" r="13.0"/>
<circle cx="553.2" cy="838.3" r="13.0"/>
<circle cx="557.8" cy="843.2" r="13.0"/>
<circle cx="562.5" cy="848.2" r="13.0"/>
<circle cx="567.1" cy="853" r="13.0"/>
<circle cx="571.8" cy="857.1" r="13.0"/>
<circle cx="576.4" cy="862.1" r="13.0"/>
<circle cx="581.1" cy="868.1" r="13.0"/>
<circle cx="585.7" cy="874.7" r="13.0"/>
<circle cx="590.4" cy="876.7" r="13.0"/>
<circle cx="595" cy="876.5" r="13.0"/>
<circle cx="599.7" cy="880.2" r="13.0"/>
<circle cx="604.3" cy="879.7" r="13.0"/>
<circle cx="609" cy="880.7" r="13.0"/>
<circle cx="613.6" cy="882.6" r="13.0"/>
<circle cx="618.3" cy="883.5" r="13.0"/>
<circle cx="622.9" cy="883.2" r="13.0"/>
<circle cx="627.6" cy="884.5" r="13.0"/>
<circle cx="632.2" cy="885.3" r="13.0"/>
<circle cx="636.9" cy="886.7" r="13.0"/>
<circle cx="641.5" cy="889.5" r="13.0"/>
<circle cx="646.2" cy="889.5" r="13.0"/>
<circle cx="650.8" cy="889.6" r="13.0"/>
<circle cx="655.5" cy="890.8" r="13.0"/>
<circle cx="660.1" cy="890.1" r="13.0"/>
<circle cx="664.8" cy="890.8" r="13.0"/>
<circle cx="669.4" cy="891.3" r="13.0"/>
<circle cx="674.1" cy="890.1" r="13.0"/>
<circle cx="678.7" cy="893" r="13.0"/>
<circle cx="683.4" cy="895.1" r="13.0"/>
<circle cx="688" cy="896.3" r="13.0"/>
<circle cx="692.7" cy="896.5" r="13.0"/>
<circle cx="697.3" cy="898.9" r="13.0"/>
<circle cx="702" cy="898.9" r="13.0"/>
<circle cx="706.6" cy="900.3" r="13.0"/>
<circle cx="711.3" cy="904" r="13.0"/>
<circle cx="715.9" cy="902.4" r="13.0"/>
<circle cx="720.6" cy="903.8" r="13.0"/>
<circle cx="725.2" cy="905.4" r="13.0"/>
<circle cx="729.9" cy="907.3" r="13.0"/>
<circle cx="734.5" cy="910.1" r="13.0"/>
<circle cx="739.2" cy="910.1" r="13.0"/>
<circle cx="743.8" cy="910.6" r="13.0"/>
<circle cx="748.5" cy="910.4" r="13.0"/>
<circle cx="753.1" cy="909.6" r="13.0"/>
<circle cx="757.8" cy="907.3" r="13.0"/>
<circle cx="762.4" cy="907.3" r="13.0"/>
<circle cx="767" cy="906.6" r="13.0"/>
<circle cx="771.7" cy="908" r="13.0"/>
<circle cx="776.3" cy="909.3" r="13.0"/>
<circle cx="781" cy="911.7" r="13.0"/>
<circle cx="785.6" cy="911.1" r="13.0"/>
<circle cx="790.3" cy="911.3" r="13.0"/>
<circle cx="794.9" cy="910.2" r="13.0"/>
<circle cx="799.6" cy="911.8" r="13.0"/>
<circle cx="804.2" cy="912.9" r="13.0"/>
<circle cx="808.9" cy="914.4" r="13.0"/>
<circle cx="813.5" cy="915.4" r="13.0"/>
<circle cx="818.2" cy="914.7" r="13.0"/>
<circle cx="822.8" cy="915" r="13.0"/>
<circle cx="827.5" cy="915.9" r="13.0"/>
<circle cx="832.1" cy="916.6" r="13.0"/>
<circle cx="836.8" cy="917.8" r="13.0"/>
<circle cx="841.4" cy="915.8" r="13.0"/>
<circle cx="846.1" cy="917.7" r="13.0"/>
<circle cx="850.7" cy="919.1" r="13.0"/>
<circle cx="855.4" cy="919.3" r="13.0"/>
<circle cx="860" cy="919.8" r="13.0"/>
<circle cx="864.7" cy="919" r="13.0"/>
<circle cx="869.3" cy="921.7" r="13.0"/>
<circle cx="874" cy="922" r="13.0"/>
<circle cx="878.6" cy="923.2" r="13.0"/>
<circle cx="883.3" cy="926.7" r="13.0"/>
<circle cx="887.9" cy="926.1" r="13.0"/>
<circle cx="892.6" cy="927.8" r="13.0"/>
<circle cx="897.2" cy="928" r="13.0"/>
<circle cx="901.9" cy="926.6" r="13.0"/>
<circle cx="906.5" cy="922.8" r="13.0"/>
<circle cx="911.2" cy="922.7" r="13.0"/>
<circle cx="915.8" cy="921.5" r="13.0"/>
<circle cx="920.5" cy="923.3" r="13.0"/>
<circle cx="925.1" cy="926" r="13.0"/>
<circle cx="929.8" cy="926.8" r="13.0"/>
<circle cx="934.4" cy="928.9" r="13.0"/>
<circle cx="939.1" cy="929.2" r="13.0"/>
<circle cx="943.7" cy="932.2" r="13.0"/>
<circle cx="948.4" cy="932.6" r="13.0"/>
<circle cx="953" cy="931.1" r="13.0"/>
<circle cx="957.7" cy="931.6" r="13.0"/>
<circle cx="962.3" cy="931.7" r="13.0"/>
<circle cx="967" cy="931" r="13.0"/>
<circle cx="971.6" cy="931.1" r="13.0"/>
<circle cx="976.3" cy="931" r="13.0"/>
<circle cx="980.9" cy="929.4" r="13.0"/>
<circle cx="985.6" cy="930" r="13.0"/>
<circle cx="990.2" cy="927.2" r="13.0"/>
<circle cx="994.9" cy="926.8" r="13.0"/>
<circle cx="999.5" cy="925.9" r="13.0"/>
<circle cx="1004.2" cy="926.3" r="13.0"/>
<circle cx="1008.8" cy="926.2" r="13.0"/>
<circle cx="1013.5" cy="928.6" r="13.0"/>
<circle cx="1018.1" cy="929.7" r="13.0"/>
<circle cx="1022.8" cy="929.3" r="13.0"/>
<circle cx="1027.4" cy="928" r="13.0"/>
<circle cx="1032.1" cy="926.8" r="13.0"/>
<circle cx="1036.7" cy="926.5" r="13.0"/>
<circle cx="1041.4" cy="925.5" r="13.0"/>
<circle cx="1046" cy="924" r="13.0"/>
<circle cx="1050.7" cy="924.7" r="13.0"/>
<circle cx="1055.3" cy="924.7" r="13.0"/>
<circle cx="1060" cy="927.8" r="13.0"/>
<circle cx="1064.6" cy="928" r="13.0"/>
<circle cx="1069.3" cy="925.7" r="13.0"/>
<circle cx="1073.9" cy="923.6" r="13.0"/>
<circle cx="1078.6" cy="923.8" r="13.0"/>
<circle cx="1083.2" cy="923.4" r="13.0"/>
<circle cx="1087.9" cy="924.4" r="13.0"/>
<circle cx="1092.5" cy="928.7" r="13.0"/>
<circle cx="1097.2" cy="928.7" r="13.0"/>
<circle cx="1101.8" cy="928.7" r="13.0"/>
<circle cx="1106.5" cy="925.5" r="13.0"/>
<circle cx="1111.1" cy="926.9" r="13.0"/>
<circle cx="1115.8" cy="927" r="13.0"/>
<circle cx="1120.4" cy="928.3" r="13.0"/>
<circle cx="1125" cy="927.8" r="13.0"/>
<circle cx="1129.7" cy="928.7" r="13.0"/>
<circle cx="1134.3" cy="931.3" r="13.0"/>
</g>
</g>
<path d="M402.3,821.5 H486.4 V949.3 H402.3" fill="none" stroke="#ee2a2b" stroke-width="4.4" stroke-dasharray="10.8 7"/>
<line x1="566.5" y1="430.5" x2="432.5" y2="764" stroke="#ee2a2b" stroke-width="4"/>
<polygon points="416.7,803.4 422.4,757.7 444.1,766.5" fill="#ee2a2b"/>
<g stroke="#2a2728" stroke-width="4.5" fill="none">
<rect x="404.4" y="2.6" width="1370.0" height="991.9"/>
<line x1="404.4" y1="102.5" x2="420.59999999999997" y2="102.5"/>
<line x1="404.4" y1="300.6" x2="420.59999999999997" y2="300.6"/>
<line x1="404.4" y1="498.7" x2="420.59999999999997" y2="498.7"/>
<line x1="404.4" y1="696.8" x2="420.59999999999997" y2="696.8"/>
<line x1="404.4" y1="894.9" x2="420.59999999999997" y2="894.9"/>
<line x1="565.6" y1="994.5" x2="565.6" y2="978.1"/>
<line x1="726.8" y1="994.5" x2="726.8" y2="978.1"/>
<line x1="888" y1="994.5" x2="888" y2="978.1"/>
<line x1="1049.2" y1="994.5" x2="1049.2" y2="978.1"/>
<line x1="1210.5" y1="994.5" x2="1210.5" y2="978.1"/>
<line x1="1371.7" y1="994.5" x2="1371.7" y2="978.1"/>
<line x1="1532.9" y1="994.5" x2="1532.9" y2="978.1"/>
<line x1="1694.1" y1="994.5" x2="1694.1" y2="978.1"/>
</g>
<g font-family="'Liberation Serif', 'Times New Roman', serif" font-size="67" fill="#2a2728">
<text x="380.2" y="124.4" text-anchor="end">3 200</text>
<text x="380.2" y="321.9" text-anchor="end">3 000</text>
<text x="380.2" y="519.4" text-anchor="end">2 800</text>
<text x="380.2" y="716.8" text-anchor="end">2 600</text>
<text x="380.2" y="914.3" text-anchor="end">2 400</text>
<text transform="translate(434.5,1046.9) rotate(-45)" text-anchor="end">0</text>
<text transform="translate(595.7,1046.9) rotate(-45)" text-anchor="end">200</text>
<text transform="translate(756.9,1046.9) rotate(-45)" text-anchor="end">400</text>
<text transform="translate(918.1,1046.9) rotate(-45)" text-anchor="end">600</text>
<text transform="translate(1079.3,1046.9) rotate(-45)" text-anchor="end">800</text>
<text transform="translate(1236,1045.3) rotate(-45)" text-anchor="end">1 000</text>
<text transform="translate(1397.2,1045.3) rotate(-45)" text-anchor="end">1 200</text>
<text transform="translate(1558.4,1045.3) rotate(-45)" text-anchor="end">1 400</text>
<text transform="translate(1719.6,1045.3) rotate(-45)" text-anchor="end">1 600</text>
<text x="1089" y="1246.7" text-anchor="middle">Time/μs</text>
<text transform="translate(168.8,497) rotate(-90)" text-anchor="middle">Average temperature/K</text>
<text x="806.2" y="373.6" text-anchor="end">2 360</text>
<text x="806.2" y="321.7" text-anchor="end">2 380</text>
<text x="806.2" y="269.9" text-anchor="end">2 400</text>
<text x="806.2" y="218" text-anchor="end">2 420</text>
<text x="806.2" y="166.2" text-anchor="end">2 440</text>
<text x="806.2" y="114.3" text-anchor="end">2 460</text>
<text x="829.8" y="456.2" text-anchor="middle">0</text>
<text x="929.1" y="456.2" text-anchor="middle">20</text>
<text x="1028.4" y="456.2" text-anchor="middle">40</text>
<text x="1127.6" y="456.2" text-anchor="middle">60</text>
<text x="1226.9" y="456.2" text-anchor="middle">80</text>
<text x="1328.9" y="456.2" text-anchor="middle">100</text>
<text x="1077.7" y="527.4" text-anchor="middle">Time/μs</text>
<text transform="translate(556.8,211) rotate(-90)" text-anchor="middle">Average</text>
<text transform="translate(619.3,212) rotate(-90)" text-anchor="middle">temperature/K</text>
<text x="1576.5" y="71">1#</text>
<text x="1576.5" y="134">2#</text>
<text x="1576.5" y="197">3#</text>
<text x="1576.5" y="260">4#</text>
<text x="1576.5" y="323">5#</text>
</g>
<line x1="1449" y1="53.5" x2="1571" y2="53.5" stroke="#e8509f" stroke-width="4.5"/>
<circle cx="1510.1" cy="53.5" r="12.3" fill="url(#g1)"/>
<line x1="1451" y1="116.5" x2="1569" y2="116.5" stroke="#eea268" stroke-width="4.5"/>
<circle cx="1510.1" cy="116.5" r="12.3" fill="url(#g2)"/>
<line x1="1451" y1="179.5" x2="1569" y2="179.5" stroke="#6bb045" stroke-width="4.5"/>
<circle cx="1510.1" cy="179.5" r="12.3" fill="url(#g3)"/>
<line x1="1451" y1="242.5" x2="1569" y2="242.5" stroke="#4bb4e6" stroke-width="4.5"/>
<circle cx="1510.1" cy="242.5" r="12.3" fill="url(#g4)"/>
<line x1="1451" y1="305.5" x2="1569" y2="305.5" stroke="#4a6bb9" stroke-width="4.5"/>
<circle cx="1510.1" cy="305.5" r="12.3" fill="url(#g5)"/>
<g clip-path="url(#iclip)">
<polyline fill="none" stroke="#4bb4e6" stroke-width="4.4" stroke-linejoin="round" points="858.4,161.5 887.1,186.2 915.7,197.4 944.3,216.1 973,229.7 1001.6,249.6 1030.2,269 1058.9,287.3 1087.5,324.6 1116.1,334.8 1144.8,364.7 1173.4,353.9 1202,337.4 1230.7,319.1 1259.3,288.4 1287.9,279.7 1316.5,266.6"/>
<g fill="url(#g4)">
<circle cx="858.4" cy="161.5" r="9.4"/>
<circle cx="887.1" cy="186.2" r="9.4"/>
<circle cx="915.7" cy="197.4" r="9.4"/>
<circle cx="944.3" cy="216.1" r="9.4"/>
<circle cx="973" cy="229.7" r="9.4"/>
<circle cx="1001.6" cy="249.6" r="9.4"/>
<circle cx="1030.2" cy="269" r="9.4"/>
<circle cx="1058.9" cy="287.3" r="9.4"/>
<circle cx="1087.5" cy="324.6" r="9.4"/>
<circle cx="1116.1" cy="334.8" r="9.4"/>
<circle cx="1144.8" cy="364.7" r="9.4"/>
<circle cx="1173.4" cy="353.9" r="9.4"/>
<circle cx="1202" cy="337.4" r="9.4"/>
<circle cx="1230.7" cy="319.1" r="9.4"/>
<circle cx="1259.3" cy="288.4" r="9.4"/>
<circle cx="1287.9" cy="279.7" r="9.4"/>
<circle cx="1316.5" cy="266.6" r="9.4"/>
</g>
<polyline fill="none" stroke="#6bb045" stroke-width="4.4" stroke-linejoin="round" points="858.4,176 887.1,194.3 915.7,206.1 944.3,236 973,245.9 1001.6,269 1030.2,282.4 1058.9,319.1 1087.5,337.7 1116.1,305.4 1144.8,290.5 1173.4,274.2 1202,253.3 1230.7,225.2 1259.3,200.9 1287.9,181.5 1316.5,161.5"/>
<g fill="url(#g3)">
<circle cx="858.4" cy="176" r="9.4"/>
<circle cx="887.1" cy="194.3" r="9.4"/>
<circle cx="915.7" cy="206.1" r="9.4"/>
<circle cx="944.3" cy="236" r="9.4"/>
<circle cx="973" cy="245.9" r="9.4"/>
<circle cx="1001.6" cy="269" r="9.4"/>
<circle cx="1030.2" cy="282.4" r="9.4"/>
<circle cx="1058.9" cy="319.1" r="9.4"/>
<circle cx="1087.5" cy="337.7" r="9.4"/>
<circle cx="1116.1" cy="305.4" r="9.4"/>
<circle cx="1144.8" cy="290.5" r="9.4"/>
<circle cx="1173.4" cy="274.2" r="9.4"/>
<circle cx="1202" cy="253.3" r="9.4"/>
<circle cx="1230.7" cy="225.2" r="9.4"/>
<circle cx="1259.3" cy="200.9" r="9.4"/>
<circle cx="1287.9" cy="181.5" r="9.4"/>
<circle cx="1316.5" cy="161.5" r="9.4"/>
</g>
<polyline fill="none" stroke="#4a6bb9" stroke-width="4.4" stroke-linejoin="round" points="858.4,164.7 887.1,186.7 915.7,221.8 944.3,236 973,249.6 1001.6,291.8 1030.2,313.3 1058.9,310.4 1087.5,298.4 1116.1,267.4 1144.8,248.3 1173.4,219.7 1202,197.4 1230.7,179.1 1259.3,135.3 1287.9,108.1 1316.5,76.6 1345.2,46.2"/>
<g fill="url(#g5)">
<circle cx="858.4" cy="164.7" r="9.4"/>
<circle cx="887.1" cy="186.7" r="9.4"/>
<circle cx="915.7" cy="221.8" r="9.4"/>
<circle cx="944.3" cy="236" r="9.4"/>
<circle cx="973" cy="249.6" r="9.4"/>
<circle cx="1001.6" cy="291.8" r="9.4"/>
<circle cx="1030.2" cy="313.3" r="9.4"/>
<circle cx="1058.9" cy="310.4" r="9.4"/>
<circle cx="1087.5" cy="298.4" r="9.4"/>
<circle cx="1116.1" cy="267.4" r="9.4"/>
<circle cx="1144.8" cy="248.3" r="9.4"/>
<circle cx="1173.4" cy="219.7" r="9.4"/>
<circle cx="1202" cy="197.4" r="9.4"/>
<circle cx="1230.7" cy="179.1" r="9.4"/>
<circle cx="1259.3" cy="135.3" r="9.4"/>
<circle cx="1287.9" cy="108.1" r="9.4"/>
<circle cx="1316.5" cy="76.6" r="9.4"/>
</g>
<polyline fill="none" stroke="#eea268" stroke-width="4.4" stroke-linejoin="round" points="858.4,177.3 887.1,190.4 915.7,216.1 944.3,236.8 973,258.3 1001.6,295.2 1030.2,232.3 1058.9,159.7 1087.5,100.2 1116.1,64.6 1144.8,18.7"/>
<g fill="url(#g2)">
<circle cx="858.4" cy="177.3" r="9.4"/>
<circle cx="887.1" cy="190.4" r="9.4"/>
<circle cx="915.7" cy="216.1" r="9.4"/>
<circle cx="944.3" cy="236.8" r="9.4"/>
<circle cx="973" cy="258.3" r="9.4"/>
<circle cx="1001.6" cy="295.2" r="9.4"/>
<circle cx="1030.2" cy="232.3" r="9.4"/>
<circle cx="1058.9" cy="159.7" r="9.4"/>
<circle cx="1087.5" cy="100.2" r="9.4"/>
<circle cx="1116.1" cy="64.6" r="9.4"/>
</g>
<polyline fill="none" stroke="#e8509f" stroke-width="4.4" stroke-linejoin="round" points="858.4,148.7 887.1,197.7 915.7,245.4 944.3,271.9 973,301 1001.6,171.8 1030.2,78.2 1058.9,-15.4"/>
<g fill="url(#g1)">
<circle cx="858.4" cy="148.7" r="9.4"/>
<circle cx="887.1" cy="197.7" r="9.4"/>
<circle cx="915.7" cy="245.4" r="9.4"/>
<circle cx="944.3" cy="271.9" r="9.4"/>
<circle cx="973" cy="301" r="9.4"/>
<circle cx="1001.6" cy="171.8" r="9.4"/>
<circle cx="1030.2" cy="78.2" r="9.4"/>
</g>
</g>
<line x1="1326" y1="67.6" x2="1329.6" y2="64.6" stroke="#4a6bb9" stroke-width="4.2" stroke-linecap="butt"/>
<g stroke="#2a2728" stroke-width="4.6" fill="none">
<rect x="829.8" y="43.0" width="496.4000000000001" height="337.2"/>
<line x1="829.8" y1="355.5" x2="842.5999999999999" y2="355.5"/>
<line x1="829.8" y1="303.1" x2="842.5999999999999" y2="303.1"/>
<line x1="829.8" y1="250.7" x2="842.5999999999999" y2="250.7"/>
<line x1="829.8" y1="198.2" x2="842.5999999999999" y2="198.2"/>
<line x1="829.8" y1="145.8" x2="842.5999999999999" y2="145.8"/>
<line x1="829.8" y1="93.4" x2="842.5999999999999" y2="93.4"/>
<line x1="929.1" y1="380.2" x2="929.1" y2="367.2"/>
<line x1="1028.4" y1="380.2" x2="1028.4" y2="367.2"/>
<line x1="1127.6" y1="380.2" x2="1127.6" y2="367.2"/>
<line x1="1226.9" y1="380.2" x2="1226.9" y2="367.2"/>
</g>
</svg>
</body></html>
